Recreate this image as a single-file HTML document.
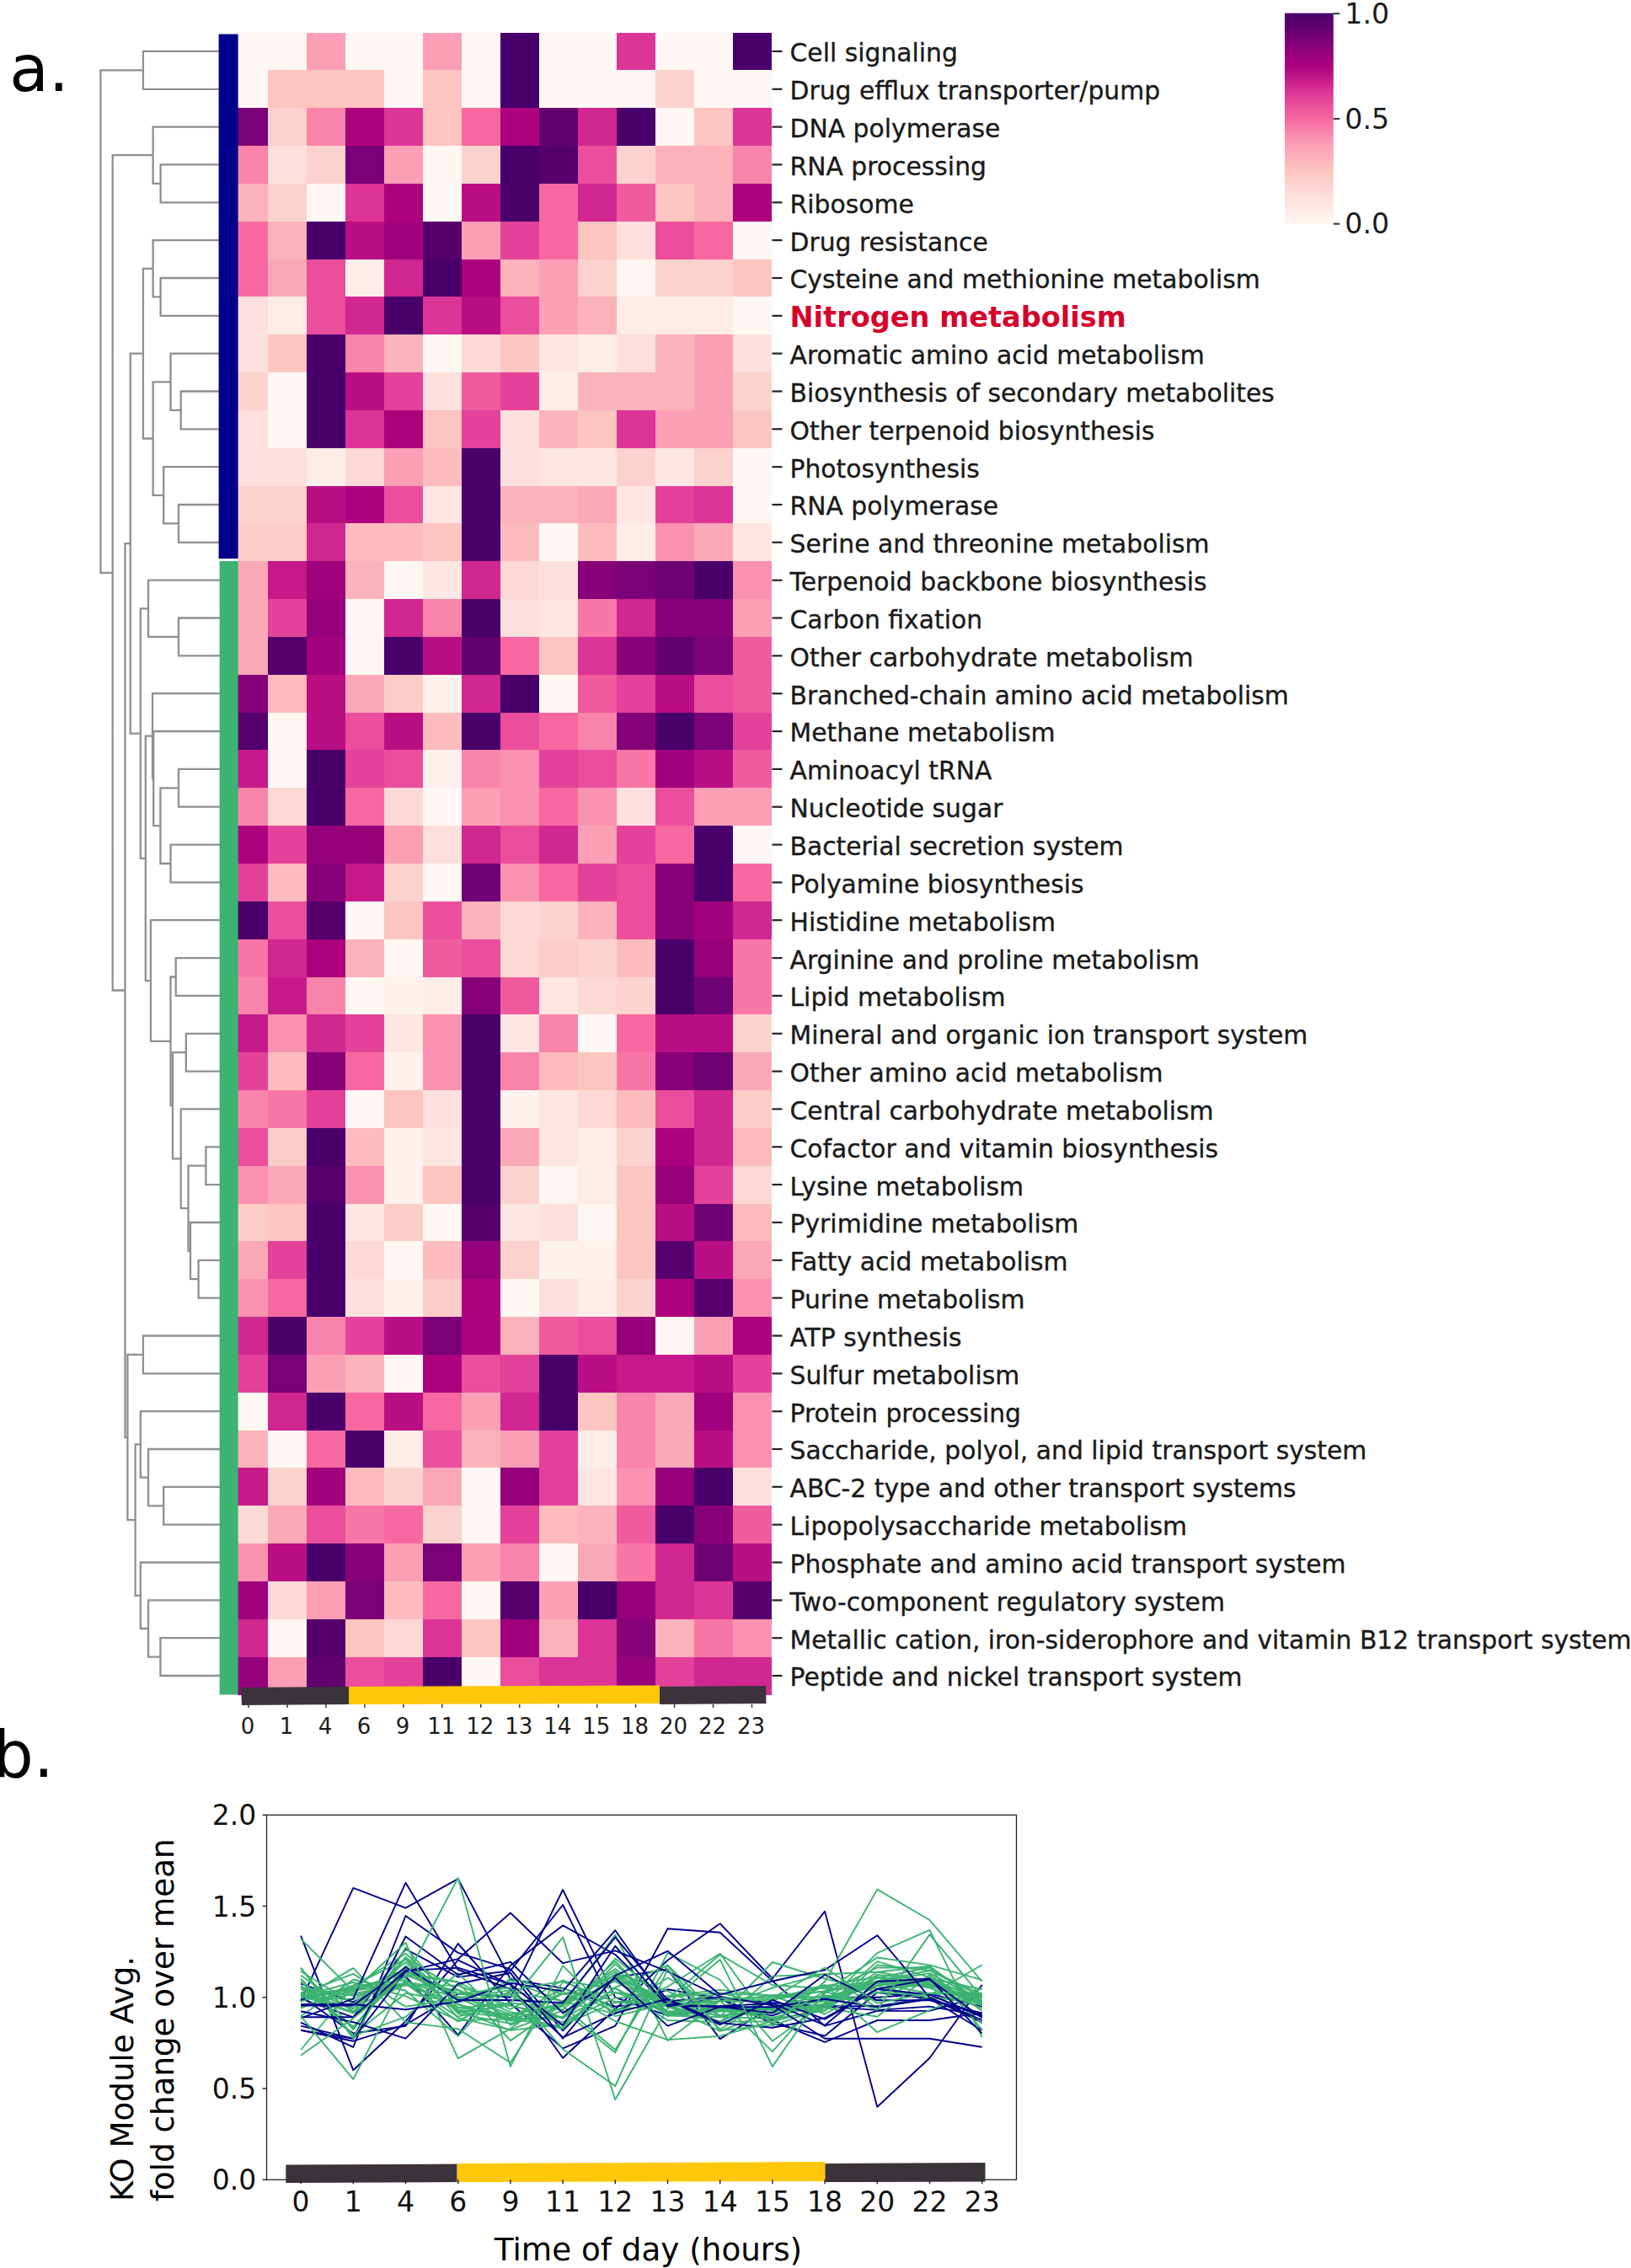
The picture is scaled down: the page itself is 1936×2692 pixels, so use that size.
<!DOCTYPE html>
<html><head><meta charset="utf-8"><title>Figure</title>
<style>html,body{margin:0;padding:0;background:#fff}svg{display:block}</style></head>
<body>
<svg width="1936" height="2692" viewBox="0 0 1936 2692" font-family="'DejaVu Sans', 'Liberation Sans', sans-serif">
<rect width="1936" height="2692" fill="#fff"/>
<g shape-rendering="crispEdges">
<rect x="282.00" y="38.50" width="36.50" height="45.34" fill="#fff7f3"/>
<rect x="318.00" y="38.50" width="46.46" height="45.34" fill="#fff7f3"/>
<rect x="363.96" y="38.50" width="46.46" height="45.34" fill="#fa9fb5"/>
<rect x="409.92" y="38.50" width="46.46" height="45.34" fill="#fff7f3"/>
<rect x="455.88" y="38.50" width="46.46" height="45.34" fill="#fff7f3"/>
<rect x="501.84" y="38.50" width="46.46" height="45.34" fill="#fa9fb5"/>
<rect x="547.80" y="38.50" width="46.46" height="45.34" fill="#fff7f3"/>
<rect x="593.76" y="38.50" width="46.46" height="45.34" fill="#49006a"/>
<rect x="639.72" y="38.50" width="46.46" height="45.34" fill="#fff7f3"/>
<rect x="685.68" y="38.50" width="46.46" height="45.34" fill="#fff7f3"/>
<rect x="731.64" y="38.50" width="46.46" height="45.34" fill="#dd3497"/>
<rect x="777.60" y="38.50" width="46.46" height="45.34" fill="#fff7f3"/>
<rect x="823.56" y="38.50" width="46.46" height="45.34" fill="#fff7f3"/>
<rect x="869.52" y="38.50" width="46.46" height="45.34" fill="#49006a"/>
<rect x="282.00" y="83.34" width="36.50" height="45.34" fill="#fff7f3"/>
<rect x="318.00" y="83.34" width="46.46" height="45.34" fill="#fcc5c0"/>
<rect x="363.96" y="83.34" width="46.46" height="45.34" fill="#fcc5c0"/>
<rect x="409.92" y="83.34" width="46.46" height="45.34" fill="#fcc5c0"/>
<rect x="455.88" y="83.34" width="46.46" height="45.34" fill="#fff7f3"/>
<rect x="501.84" y="83.34" width="46.46" height="45.34" fill="#fcc5c0"/>
<rect x="547.80" y="83.34" width="46.46" height="45.34" fill="#fff7f3"/>
<rect x="593.76" y="83.34" width="46.46" height="45.34" fill="#49006a"/>
<rect x="639.72" y="83.34" width="46.46" height="45.34" fill="#fff7f3"/>
<rect x="685.68" y="83.34" width="46.46" height="45.34" fill="#fff7f3"/>
<rect x="731.64" y="83.34" width="46.46" height="45.34" fill="#fff7f3"/>
<rect x="777.60" y="83.34" width="46.46" height="45.34" fill="#fcd2ce"/>
<rect x="823.56" y="83.34" width="46.46" height="45.34" fill="#fff7f3"/>
<rect x="869.52" y="83.34" width="46.46" height="45.34" fill="#fff7f3"/>
<rect x="282.00" y="128.18" width="36.50" height="45.34" fill="#7a0177"/>
<rect x="318.00" y="128.18" width="46.46" height="45.34" fill="#fcd2ce"/>
<rect x="363.96" y="128.18" width="46.46" height="45.34" fill="#f884ab"/>
<rect x="409.92" y="128.18" width="46.46" height="45.34" fill="#ae017e"/>
<rect x="455.88" y="128.18" width="46.46" height="45.34" fill="#dd3497"/>
<rect x="501.84" y="128.18" width="46.46" height="45.34" fill="#fcc5c0"/>
<rect x="547.80" y="128.18" width="46.46" height="45.34" fill="#f768a1"/>
<rect x="593.76" y="128.18" width="46.46" height="45.34" fill="#ae017e"/>
<rect x="639.72" y="128.18" width="46.46" height="45.34" fill="#620070"/>
<rect x="685.68" y="128.18" width="46.46" height="45.34" fill="#d12791"/>
<rect x="731.64" y="128.18" width="46.46" height="45.34" fill="#49006a"/>
<rect x="777.60" y="128.18" width="46.46" height="45.34" fill="#fff7f3"/>
<rect x="823.56" y="128.18" width="46.46" height="45.34" fill="#fcc5c0"/>
<rect x="869.52" y="128.18" width="46.46" height="45.34" fill="#dd3497"/>
<rect x="282.00" y="173.02" width="36.50" height="45.34" fill="#f884ab"/>
<rect x="318.00" y="173.02" width="46.46" height="45.34" fill="#fde0dd"/>
<rect x="363.96" y="173.02" width="46.46" height="45.34" fill="#fcd2ce"/>
<rect x="409.92" y="173.02" width="46.46" height="45.34" fill="#7a0177"/>
<rect x="455.88" y="173.02" width="46.46" height="45.34" fill="#fa9fb5"/>
<rect x="501.84" y="173.02" width="46.46" height="45.34" fill="#fff7f3"/>
<rect x="547.80" y="173.02" width="46.46" height="45.34" fill="#fcd2ce"/>
<rect x="593.76" y="173.02" width="46.46" height="45.34" fill="#49006a"/>
<rect x="639.72" y="173.02" width="46.46" height="45.34" fill="#55006d"/>
<rect x="685.68" y="173.02" width="46.46" height="45.34" fill="#ea4e9c"/>
<rect x="731.64" y="173.02" width="46.46" height="45.34" fill="#fcd2ce"/>
<rect x="777.60" y="173.02" width="46.46" height="45.34" fill="#fbb2ba"/>
<rect x="823.56" y="173.02" width="46.46" height="45.34" fill="#fbb2ba"/>
<rect x="869.52" y="173.02" width="46.46" height="45.34" fill="#f884ab"/>
<rect x="282.00" y="217.86" width="36.50" height="45.34" fill="#fbb2ba"/>
<rect x="318.00" y="217.86" width="46.46" height="45.34" fill="#fcd2ce"/>
<rect x="363.96" y="217.86" width="46.46" height="45.34" fill="#fff7f3"/>
<rect x="409.92" y="217.86" width="46.46" height="45.34" fill="#dd3497"/>
<rect x="455.88" y="217.86" width="46.46" height="45.34" fill="#ae017e"/>
<rect x="501.84" y="217.86" width="46.46" height="45.34" fill="#fff7f3"/>
<rect x="547.80" y="217.86" width="46.46" height="45.34" fill="#ba0e84"/>
<rect x="593.76" y="217.86" width="46.46" height="45.34" fill="#49006a"/>
<rect x="639.72" y="217.86" width="46.46" height="45.34" fill="#f768a1"/>
<rect x="685.68" y="217.86" width="46.46" height="45.34" fill="#d12791"/>
<rect x="731.64" y="217.86" width="46.46" height="45.34" fill="#f05b9e"/>
<rect x="777.60" y="217.86" width="46.46" height="45.34" fill="#fcc5c0"/>
<rect x="823.56" y="217.86" width="46.46" height="45.34" fill="#fbb2ba"/>
<rect x="869.52" y="217.86" width="46.46" height="45.34" fill="#ae017e"/>
<rect x="282.00" y="262.70" width="36.50" height="45.34" fill="#f768a1"/>
<rect x="318.00" y="262.70" width="46.46" height="45.34" fill="#fbb2ba"/>
<rect x="363.96" y="262.70" width="46.46" height="45.34" fill="#49006a"/>
<rect x="409.92" y="262.70" width="46.46" height="45.34" fill="#ba0e84"/>
<rect x="455.88" y="262.70" width="46.46" height="45.34" fill="#a1017c"/>
<rect x="501.84" y="262.70" width="46.46" height="45.34" fill="#55006d"/>
<rect x="547.80" y="262.70" width="46.46" height="45.34" fill="#fa9fb5"/>
<rect x="593.76" y="262.70" width="46.46" height="45.34" fill="#e4419a"/>
<rect x="639.72" y="262.70" width="46.46" height="45.34" fill="#f768a1"/>
<rect x="685.68" y="262.70" width="46.46" height="45.34" fill="#fcc5c0"/>
<rect x="731.64" y="262.70" width="46.46" height="45.34" fill="#fde0dd"/>
<rect x="777.60" y="262.70" width="46.46" height="45.34" fill="#ea4e9c"/>
<rect x="823.56" y="262.70" width="46.46" height="45.34" fill="#f768a1"/>
<rect x="869.52" y="262.70" width="46.46" height="45.34" fill="#fff7f3"/>
<rect x="282.00" y="307.54" width="36.50" height="45.34" fill="#f768a1"/>
<rect x="318.00" y="307.54" width="46.46" height="45.34" fill="#faa8b8"/>
<rect x="363.96" y="307.54" width="46.46" height="45.34" fill="#ea4e9c"/>
<rect x="409.92" y="307.54" width="46.46" height="45.34" fill="#feece8"/>
<rect x="455.88" y="307.54" width="46.46" height="45.34" fill="#d12791"/>
<rect x="501.84" y="307.54" width="46.46" height="45.34" fill="#49006a"/>
<rect x="547.80" y="307.54" width="46.46" height="45.34" fill="#ae017e"/>
<rect x="593.76" y="307.54" width="46.46" height="45.34" fill="#fbb2ba"/>
<rect x="639.72" y="307.54" width="46.46" height="45.34" fill="#fa9fb5"/>
<rect x="685.68" y="307.54" width="46.46" height="45.34" fill="#fcd2ce"/>
<rect x="731.64" y="307.54" width="46.46" height="45.34" fill="#fff7f3"/>
<rect x="777.60" y="307.54" width="46.46" height="45.34" fill="#fcd2ce"/>
<rect x="823.56" y="307.54" width="46.46" height="45.34" fill="#fcd2ce"/>
<rect x="869.52" y="307.54" width="46.46" height="45.34" fill="#fcc5c0"/>
<rect x="282.00" y="352.38" width="36.50" height="45.34" fill="#fde0dd"/>
<rect x="318.00" y="352.38" width="46.46" height="45.34" fill="#feece8"/>
<rect x="363.96" y="352.38" width="46.46" height="45.34" fill="#ea4e9c"/>
<rect x="409.92" y="352.38" width="46.46" height="45.34" fill="#d12791"/>
<rect x="455.88" y="352.38" width="46.46" height="45.34" fill="#49006a"/>
<rect x="501.84" y="352.38" width="46.46" height="45.34" fill="#dd3497"/>
<rect x="547.80" y="352.38" width="46.46" height="45.34" fill="#ba0e84"/>
<rect x="593.76" y="352.38" width="46.46" height="45.34" fill="#ea4e9c"/>
<rect x="639.72" y="352.38" width="46.46" height="45.34" fill="#fa9fb5"/>
<rect x="685.68" y="352.38" width="46.46" height="45.34" fill="#fbb2ba"/>
<rect x="731.64" y="352.38" width="46.46" height="45.34" fill="#feece8"/>
<rect x="777.60" y="352.38" width="46.46" height="45.34" fill="#feece8"/>
<rect x="823.56" y="352.38" width="46.46" height="45.34" fill="#feece8"/>
<rect x="869.52" y="352.38" width="46.46" height="45.34" fill="#fff7f3"/>
<rect x="282.00" y="397.22" width="36.50" height="45.34" fill="#fde0dd"/>
<rect x="318.00" y="397.22" width="46.46" height="45.34" fill="#fcc5c0"/>
<rect x="363.96" y="397.22" width="46.46" height="45.34" fill="#49006a"/>
<rect x="409.92" y="397.22" width="46.46" height="45.34" fill="#f884ab"/>
<rect x="455.88" y="397.22" width="46.46" height="45.34" fill="#fbb2ba"/>
<rect x="501.84" y="397.22" width="46.46" height="45.34" fill="#fff7f3"/>
<rect x="547.80" y="397.22" width="46.46" height="45.34" fill="#fdd9d6"/>
<rect x="593.76" y="397.22" width="46.46" height="45.34" fill="#fcc5c0"/>
<rect x="639.72" y="397.22" width="46.46" height="45.34" fill="#fee6e2"/>
<rect x="685.68" y="397.22" width="46.46" height="45.34" fill="#feece8"/>
<rect x="731.64" y="397.22" width="46.46" height="45.34" fill="#fde0dd"/>
<rect x="777.60" y="397.22" width="46.46" height="45.34" fill="#fbb2ba"/>
<rect x="823.56" y="397.22" width="46.46" height="45.34" fill="#fa9fb5"/>
<rect x="869.52" y="397.22" width="46.46" height="45.34" fill="#fde0dd"/>
<rect x="282.00" y="442.06" width="36.50" height="45.34" fill="#fcd2ce"/>
<rect x="318.00" y="442.06" width="46.46" height="45.34" fill="#fff7f3"/>
<rect x="363.96" y="442.06" width="46.46" height="45.34" fill="#49006a"/>
<rect x="409.92" y="442.06" width="46.46" height="45.34" fill="#ba0e84"/>
<rect x="455.88" y="442.06" width="46.46" height="45.34" fill="#e4419a"/>
<rect x="501.84" y="442.06" width="46.46" height="45.34" fill="#fde0dd"/>
<rect x="547.80" y="442.06" width="46.46" height="45.34" fill="#f05b9e"/>
<rect x="593.76" y="442.06" width="46.46" height="45.34" fill="#e4419a"/>
<rect x="639.72" y="442.06" width="46.46" height="45.34" fill="#feece8"/>
<rect x="685.68" y="442.06" width="46.46" height="45.34" fill="#fbb2ba"/>
<rect x="731.64" y="442.06" width="46.46" height="45.34" fill="#fbb2ba"/>
<rect x="777.60" y="442.06" width="46.46" height="45.34" fill="#fbb2ba"/>
<rect x="823.56" y="442.06" width="46.46" height="45.34" fill="#fa9fb5"/>
<rect x="869.52" y="442.06" width="46.46" height="45.34" fill="#fcd2ce"/>
<rect x="282.00" y="486.90" width="36.50" height="45.34" fill="#fde0dd"/>
<rect x="318.00" y="486.90" width="46.46" height="45.34" fill="#fff7f3"/>
<rect x="363.96" y="486.90" width="46.46" height="45.34" fill="#49006a"/>
<rect x="409.92" y="486.90" width="46.46" height="45.34" fill="#dd3497"/>
<rect x="455.88" y="486.90" width="46.46" height="45.34" fill="#ae017e"/>
<rect x="501.84" y="486.90" width="46.46" height="45.34" fill="#fcc5c0"/>
<rect x="547.80" y="486.90" width="46.46" height="45.34" fill="#e4419a"/>
<rect x="593.76" y="486.90" width="46.46" height="45.34" fill="#fde0dd"/>
<rect x="639.72" y="486.90" width="46.46" height="45.34" fill="#fbb2ba"/>
<rect x="685.68" y="486.90" width="46.46" height="45.34" fill="#fcc5c0"/>
<rect x="731.64" y="486.90" width="46.46" height="45.34" fill="#dd3497"/>
<rect x="777.60" y="486.90" width="46.46" height="45.34" fill="#fa9fb5"/>
<rect x="823.56" y="486.90" width="46.46" height="45.34" fill="#fa9fb5"/>
<rect x="869.52" y="486.90" width="46.46" height="45.34" fill="#fcc5c0"/>
<rect x="282.00" y="531.74" width="36.50" height="45.34" fill="#fde0dd"/>
<rect x="318.00" y="531.74" width="46.46" height="45.34" fill="#fde0dd"/>
<rect x="363.96" y="531.74" width="46.46" height="45.34" fill="#feece8"/>
<rect x="409.92" y="531.74" width="46.46" height="45.34" fill="#fdd9d6"/>
<rect x="455.88" y="531.74" width="46.46" height="45.34" fill="#fa9fb5"/>
<rect x="501.84" y="531.74" width="46.46" height="45.34" fill="#fcbcbd"/>
<rect x="547.80" y="531.74" width="46.46" height="45.34" fill="#49006a"/>
<rect x="593.76" y="531.74" width="46.46" height="45.34" fill="#fde0dd"/>
<rect x="639.72" y="531.74" width="46.46" height="45.34" fill="#fee6e2"/>
<rect x="685.68" y="531.74" width="46.46" height="45.34" fill="#fee6e2"/>
<rect x="731.64" y="531.74" width="46.46" height="45.34" fill="#fcd2ce"/>
<rect x="777.60" y="531.74" width="46.46" height="45.34" fill="#fee6e2"/>
<rect x="823.56" y="531.74" width="46.46" height="45.34" fill="#fcd2ce"/>
<rect x="869.52" y="531.74" width="46.46" height="45.34" fill="#fff7f3"/>
<rect x="282.00" y="576.58" width="36.50" height="45.34" fill="#fcd2ce"/>
<rect x="318.00" y="576.58" width="46.46" height="45.34" fill="#fcd2ce"/>
<rect x="363.96" y="576.58" width="46.46" height="45.34" fill="#ba0e84"/>
<rect x="409.92" y="576.58" width="46.46" height="45.34" fill="#ae017e"/>
<rect x="455.88" y="576.58" width="46.46" height="45.34" fill="#ea4e9c"/>
<rect x="501.84" y="576.58" width="46.46" height="45.34" fill="#fee6e2"/>
<rect x="547.80" y="576.58" width="46.46" height="45.34" fill="#49006a"/>
<rect x="593.76" y="576.58" width="46.46" height="45.34" fill="#fbb2ba"/>
<rect x="639.72" y="576.58" width="46.46" height="45.34" fill="#fbb2ba"/>
<rect x="685.68" y="576.58" width="46.46" height="45.34" fill="#faa8b8"/>
<rect x="731.64" y="576.58" width="46.46" height="45.34" fill="#fee6e2"/>
<rect x="777.60" y="576.58" width="46.46" height="45.34" fill="#e4419a"/>
<rect x="823.56" y="576.58" width="46.46" height="45.34" fill="#dd3497"/>
<rect x="869.52" y="576.58" width="46.46" height="45.34" fill="#fff7f3"/>
<rect x="282.00" y="621.42" width="36.50" height="45.34" fill="#fcccc7"/>
<rect x="318.00" y="621.42" width="46.46" height="45.34" fill="#fcccc7"/>
<rect x="363.96" y="621.42" width="46.46" height="45.34" fill="#d12791"/>
<rect x="409.92" y="621.42" width="46.46" height="45.34" fill="#fcbcbd"/>
<rect x="455.88" y="621.42" width="46.46" height="45.34" fill="#fcbcbd"/>
<rect x="501.84" y="621.42" width="46.46" height="45.34" fill="#fcc5c0"/>
<rect x="547.80" y="621.42" width="46.46" height="45.34" fill="#49006a"/>
<rect x="593.76" y="621.42" width="46.46" height="45.34" fill="#fcbcbd"/>
<rect x="639.72" y="621.42" width="46.46" height="45.34" fill="#fff7f3"/>
<rect x="685.68" y="621.42" width="46.46" height="45.34" fill="#fcbcbd"/>
<rect x="731.64" y="621.42" width="46.46" height="45.34" fill="#feece8"/>
<rect x="777.60" y="621.42" width="46.46" height="45.34" fill="#f991b0"/>
<rect x="823.56" y="621.42" width="46.46" height="45.34" fill="#faa8b8"/>
<rect x="869.52" y="621.42" width="46.46" height="45.34" fill="#fee6e2"/>
<rect x="282.00" y="666.26" width="36.50" height="45.34" fill="#faa8b8"/>
<rect x="318.00" y="666.26" width="46.46" height="45.34" fill="#c61a8a"/>
<rect x="363.96" y="666.26" width="46.46" height="45.34" fill="#a1017c"/>
<rect x="409.92" y="666.26" width="46.46" height="45.34" fill="#fbb2ba"/>
<rect x="455.88" y="666.26" width="46.46" height="45.34" fill="#fff7f3"/>
<rect x="501.84" y="666.26" width="46.46" height="45.34" fill="#fee6e2"/>
<rect x="547.80" y="666.26" width="46.46" height="45.34" fill="#d12791"/>
<rect x="593.76" y="666.26" width="46.46" height="45.34" fill="#fdd9d6"/>
<rect x="639.72" y="666.26" width="46.46" height="45.34" fill="#fde0dd"/>
<rect x="685.68" y="666.26" width="46.46" height="45.34" fill="#870179"/>
<rect x="731.64" y="666.26" width="46.46" height="45.34" fill="#7a0177"/>
<rect x="777.60" y="666.26" width="46.46" height="45.34" fill="#6e0174"/>
<rect x="823.56" y="666.26" width="46.46" height="45.34" fill="#49006a"/>
<rect x="869.52" y="666.26" width="46.46" height="45.34" fill="#f991b0"/>
<rect x="282.00" y="711.10" width="36.50" height="45.34" fill="#faa8b8"/>
<rect x="318.00" y="711.10" width="46.46" height="45.34" fill="#e4419a"/>
<rect x="363.96" y="711.10" width="46.46" height="45.34" fill="#94017a"/>
<rect x="409.92" y="711.10" width="46.46" height="45.34" fill="#fff7f3"/>
<rect x="455.88" y="711.10" width="46.46" height="45.34" fill="#d12791"/>
<rect x="501.84" y="711.10" width="46.46" height="45.34" fill="#f884ab"/>
<rect x="547.80" y="711.10" width="46.46" height="45.34" fill="#49006a"/>
<rect x="593.76" y="711.10" width="46.46" height="45.34" fill="#fde0dd"/>
<rect x="639.72" y="711.10" width="46.46" height="45.34" fill="#fee6e2"/>
<rect x="685.68" y="711.10" width="46.46" height="45.34" fill="#f876a6"/>
<rect x="731.64" y="711.10" width="46.46" height="45.34" fill="#d12791"/>
<rect x="777.60" y="711.10" width="46.46" height="45.34" fill="#870179"/>
<rect x="823.56" y="711.10" width="46.46" height="45.34" fill="#870179"/>
<rect x="869.52" y="711.10" width="46.46" height="45.34" fill="#fa9fb5"/>
<rect x="282.00" y="755.94" width="36.50" height="45.34" fill="#faa8b8"/>
<rect x="318.00" y="755.94" width="46.46" height="45.34" fill="#55006d"/>
<rect x="363.96" y="755.94" width="46.46" height="45.34" fill="#a1017c"/>
<rect x="409.92" y="755.94" width="46.46" height="45.34" fill="#fff7f3"/>
<rect x="455.88" y="755.94" width="46.46" height="45.34" fill="#49006a"/>
<rect x="501.84" y="755.94" width="46.46" height="45.34" fill="#ba0e84"/>
<rect x="547.80" y="755.94" width="46.46" height="45.34" fill="#620070"/>
<rect x="593.76" y="755.94" width="46.46" height="45.34" fill="#f768a1"/>
<rect x="639.72" y="755.94" width="46.46" height="45.34" fill="#fcc5c0"/>
<rect x="685.68" y="755.94" width="46.46" height="45.34" fill="#dd3497"/>
<rect x="731.64" y="755.94" width="46.46" height="45.34" fill="#870179"/>
<rect x="777.60" y="755.94" width="46.46" height="45.34" fill="#620070"/>
<rect x="823.56" y="755.94" width="46.46" height="45.34" fill="#7a0177"/>
<rect x="869.52" y="755.94" width="46.46" height="45.34" fill="#f05b9e"/>
<rect x="282.00" y="800.78" width="36.50" height="45.34" fill="#870179"/>
<rect x="318.00" y="800.78" width="46.46" height="45.34" fill="#fcbcbd"/>
<rect x="363.96" y="800.78" width="46.46" height="45.34" fill="#ba0e84"/>
<rect x="409.92" y="800.78" width="46.46" height="45.34" fill="#faa8b8"/>
<rect x="455.88" y="800.78" width="46.46" height="45.34" fill="#fcccc7"/>
<rect x="501.84" y="800.78" width="46.46" height="45.34" fill="#fef1ee"/>
<rect x="547.80" y="800.78" width="46.46" height="45.34" fill="#d12791"/>
<rect x="593.76" y="800.78" width="46.46" height="45.34" fill="#49006a"/>
<rect x="639.72" y="800.78" width="46.46" height="45.34" fill="#fff7f3"/>
<rect x="685.68" y="800.78" width="46.46" height="45.34" fill="#f05b9e"/>
<rect x="731.64" y="800.78" width="46.46" height="45.34" fill="#e4419a"/>
<rect x="777.60" y="800.78" width="46.46" height="45.34" fill="#ba0e84"/>
<rect x="823.56" y="800.78" width="46.46" height="45.34" fill="#ea4e9c"/>
<rect x="869.52" y="800.78" width="46.46" height="45.34" fill="#f05b9e"/>
<rect x="282.00" y="845.62" width="36.50" height="45.34" fill="#55006d"/>
<rect x="318.00" y="845.62" width="46.46" height="45.34" fill="#fff7f3"/>
<rect x="363.96" y="845.62" width="46.46" height="45.34" fill="#ba0e84"/>
<rect x="409.92" y="845.62" width="46.46" height="45.34" fill="#ea4e9c"/>
<rect x="455.88" y="845.62" width="46.46" height="45.34" fill="#ba0e84"/>
<rect x="501.84" y="845.62" width="46.46" height="45.34" fill="#fcbcbd"/>
<rect x="547.80" y="845.62" width="46.46" height="45.34" fill="#49006a"/>
<rect x="593.76" y="845.62" width="46.46" height="45.34" fill="#ea4e9c"/>
<rect x="639.72" y="845.62" width="46.46" height="45.34" fill="#f768a1"/>
<rect x="685.68" y="845.62" width="46.46" height="45.34" fill="#f884ab"/>
<rect x="731.64" y="845.62" width="46.46" height="45.34" fill="#870179"/>
<rect x="777.60" y="845.62" width="46.46" height="45.34" fill="#49006a"/>
<rect x="823.56" y="845.62" width="46.46" height="45.34" fill="#7a0177"/>
<rect x="869.52" y="845.62" width="46.46" height="45.34" fill="#e4419a"/>
<rect x="282.00" y="890.46" width="36.50" height="45.34" fill="#c61a8a"/>
<rect x="318.00" y="890.46" width="46.46" height="45.34" fill="#fff7f3"/>
<rect x="363.96" y="890.46" width="46.46" height="45.34" fill="#49006a"/>
<rect x="409.92" y="890.46" width="46.46" height="45.34" fill="#e4419a"/>
<rect x="455.88" y="890.46" width="46.46" height="45.34" fill="#ea4e9c"/>
<rect x="501.84" y="890.46" width="46.46" height="45.34" fill="#fef1ee"/>
<rect x="547.80" y="890.46" width="46.46" height="45.34" fill="#f884ab"/>
<rect x="593.76" y="890.46" width="46.46" height="45.34" fill="#f991b0"/>
<rect x="639.72" y="890.46" width="46.46" height="45.34" fill="#e4419a"/>
<rect x="685.68" y="890.46" width="46.46" height="45.34" fill="#ea4e9c"/>
<rect x="731.64" y="890.46" width="46.46" height="45.34" fill="#f876a6"/>
<rect x="777.60" y="890.46" width="46.46" height="45.34" fill="#a1017c"/>
<rect x="823.56" y="890.46" width="46.46" height="45.34" fill="#ba0e84"/>
<rect x="869.52" y="890.46" width="46.46" height="45.34" fill="#f05b9e"/>
<rect x="282.00" y="935.30" width="36.50" height="45.34" fill="#f884ab"/>
<rect x="318.00" y="935.30" width="46.46" height="45.34" fill="#fdd9d6"/>
<rect x="363.96" y="935.30" width="46.46" height="45.34" fill="#49006a"/>
<rect x="409.92" y="935.30" width="46.46" height="45.34" fill="#f768a1"/>
<rect x="455.88" y="935.30" width="46.46" height="45.34" fill="#fdd9d6"/>
<rect x="501.84" y="935.30" width="46.46" height="45.34" fill="#fff7f3"/>
<rect x="547.80" y="935.30" width="46.46" height="45.34" fill="#fa9fb5"/>
<rect x="593.76" y="935.30" width="46.46" height="45.34" fill="#f991b0"/>
<rect x="639.72" y="935.30" width="46.46" height="45.34" fill="#f768a1"/>
<rect x="685.68" y="935.30" width="46.46" height="45.34" fill="#f991b0"/>
<rect x="731.64" y="935.30" width="46.46" height="45.34" fill="#fde0dd"/>
<rect x="777.60" y="935.30" width="46.46" height="45.34" fill="#ea4e9c"/>
<rect x="823.56" y="935.30" width="46.46" height="45.34" fill="#fa9fb5"/>
<rect x="869.52" y="935.30" width="46.46" height="45.34" fill="#fa9fb5"/>
<rect x="282.00" y="980.14" width="36.50" height="45.34" fill="#ae017e"/>
<rect x="318.00" y="980.14" width="46.46" height="45.34" fill="#e4419a"/>
<rect x="363.96" y="980.14" width="46.46" height="45.34" fill="#94017a"/>
<rect x="409.92" y="980.14" width="46.46" height="45.34" fill="#94017a"/>
<rect x="455.88" y="980.14" width="46.46" height="45.34" fill="#fa9fb5"/>
<rect x="501.84" y="980.14" width="46.46" height="45.34" fill="#fde0dd"/>
<rect x="547.80" y="980.14" width="46.46" height="45.34" fill="#d12791"/>
<rect x="593.76" y="980.14" width="46.46" height="45.34" fill="#ea4e9c"/>
<rect x="639.72" y="980.14" width="46.46" height="45.34" fill="#d12791"/>
<rect x="685.68" y="980.14" width="46.46" height="45.34" fill="#fa9fb5"/>
<rect x="731.64" y="980.14" width="46.46" height="45.34" fill="#e4419a"/>
<rect x="777.60" y="980.14" width="46.46" height="45.34" fill="#f768a1"/>
<rect x="823.56" y="980.14" width="46.46" height="45.34" fill="#49006a"/>
<rect x="869.52" y="980.14" width="46.46" height="45.34" fill="#fff7f3"/>
<rect x="282.00" y="1024.98" width="36.50" height="45.34" fill="#e4419a"/>
<rect x="318.00" y="1024.98" width="46.46" height="45.34" fill="#fcbcbd"/>
<rect x="363.96" y="1024.98" width="46.46" height="45.34" fill="#870179"/>
<rect x="409.92" y="1024.98" width="46.46" height="45.34" fill="#c61a8a"/>
<rect x="455.88" y="1024.98" width="46.46" height="45.34" fill="#fcd2ce"/>
<rect x="501.84" y="1024.98" width="46.46" height="45.34" fill="#fff7f3"/>
<rect x="547.80" y="1024.98" width="46.46" height="45.34" fill="#6e0174"/>
<rect x="593.76" y="1024.98" width="46.46" height="45.34" fill="#f991b0"/>
<rect x="639.72" y="1024.98" width="46.46" height="45.34" fill="#f768a1"/>
<rect x="685.68" y="1024.98" width="46.46" height="45.34" fill="#e4419a"/>
<rect x="731.64" y="1024.98" width="46.46" height="45.34" fill="#ea4e9c"/>
<rect x="777.60" y="1024.98" width="46.46" height="45.34" fill="#870179"/>
<rect x="823.56" y="1024.98" width="46.46" height="45.34" fill="#49006a"/>
<rect x="869.52" y="1024.98" width="46.46" height="45.34" fill="#f768a1"/>
<rect x="282.00" y="1069.82" width="36.50" height="45.34" fill="#49006a"/>
<rect x="318.00" y="1069.82" width="46.46" height="45.34" fill="#ea4e9c"/>
<rect x="363.96" y="1069.82" width="46.46" height="45.34" fill="#55006d"/>
<rect x="409.92" y="1069.82" width="46.46" height="45.34" fill="#fff7f3"/>
<rect x="455.88" y="1069.82" width="46.46" height="45.34" fill="#fcc5c0"/>
<rect x="501.84" y="1069.82" width="46.46" height="45.34" fill="#ea4e9c"/>
<rect x="547.80" y="1069.82" width="46.46" height="45.34" fill="#fbb2ba"/>
<rect x="593.76" y="1069.82" width="46.46" height="45.34" fill="#fdd9d6"/>
<rect x="639.72" y="1069.82" width="46.46" height="45.34" fill="#fcd2ce"/>
<rect x="685.68" y="1069.82" width="46.46" height="45.34" fill="#fbb2ba"/>
<rect x="731.64" y="1069.82" width="46.46" height="45.34" fill="#ea4e9c"/>
<rect x="777.60" y="1069.82" width="46.46" height="45.34" fill="#870179"/>
<rect x="823.56" y="1069.82" width="46.46" height="45.34" fill="#a1017c"/>
<rect x="869.52" y="1069.82" width="46.46" height="45.34" fill="#d12791"/>
<rect x="282.00" y="1114.66" width="36.50" height="45.34" fill="#f876a6"/>
<rect x="318.00" y="1114.66" width="46.46" height="45.34" fill="#d12791"/>
<rect x="363.96" y="1114.66" width="46.46" height="45.34" fill="#ae017e"/>
<rect x="409.92" y="1114.66" width="46.46" height="45.34" fill="#fbb2ba"/>
<rect x="455.88" y="1114.66" width="46.46" height="45.34" fill="#fff7f3"/>
<rect x="501.84" y="1114.66" width="46.46" height="45.34" fill="#f05b9e"/>
<rect x="547.80" y="1114.66" width="46.46" height="45.34" fill="#ea4e9c"/>
<rect x="593.76" y="1114.66" width="46.46" height="45.34" fill="#fdd9d6"/>
<rect x="639.72" y="1114.66" width="46.46" height="45.34" fill="#fcccc7"/>
<rect x="685.68" y="1114.66" width="46.46" height="45.34" fill="#fcd2ce"/>
<rect x="731.64" y="1114.66" width="46.46" height="45.34" fill="#fcbcbd"/>
<rect x="777.60" y="1114.66" width="46.46" height="45.34" fill="#49006a"/>
<rect x="823.56" y="1114.66" width="46.46" height="45.34" fill="#94017a"/>
<rect x="869.52" y="1114.66" width="46.46" height="45.34" fill="#f876a6"/>
<rect x="282.00" y="1159.50" width="36.50" height="45.34" fill="#f884ab"/>
<rect x="318.00" y="1159.50" width="46.46" height="45.34" fill="#c61a8a"/>
<rect x="363.96" y="1159.50" width="46.46" height="45.34" fill="#f884ab"/>
<rect x="409.92" y="1159.50" width="46.46" height="45.34" fill="#fff7f3"/>
<rect x="455.88" y="1159.50" width="46.46" height="45.34" fill="#fef1ee"/>
<rect x="501.84" y="1159.50" width="46.46" height="45.34" fill="#feece8"/>
<rect x="547.80" y="1159.50" width="46.46" height="45.34" fill="#870179"/>
<rect x="593.76" y="1159.50" width="46.46" height="45.34" fill="#f05b9e"/>
<rect x="639.72" y="1159.50" width="46.46" height="45.34" fill="#fee6e2"/>
<rect x="685.68" y="1159.50" width="46.46" height="45.34" fill="#fdd9d6"/>
<rect x="731.64" y="1159.50" width="46.46" height="45.34" fill="#fcd2ce"/>
<rect x="777.60" y="1159.50" width="46.46" height="45.34" fill="#49006a"/>
<rect x="823.56" y="1159.50" width="46.46" height="45.34" fill="#6e0174"/>
<rect x="869.52" y="1159.50" width="46.46" height="45.34" fill="#f876a6"/>
<rect x="282.00" y="1204.34" width="36.50" height="45.34" fill="#c61a8a"/>
<rect x="318.00" y="1204.34" width="46.46" height="45.34" fill="#f991b0"/>
<rect x="363.96" y="1204.34" width="46.46" height="45.34" fill="#d12791"/>
<rect x="409.92" y="1204.34" width="46.46" height="45.34" fill="#e4419a"/>
<rect x="455.88" y="1204.34" width="46.46" height="45.34" fill="#fee6e2"/>
<rect x="501.84" y="1204.34" width="46.46" height="45.34" fill="#f991b0"/>
<rect x="547.80" y="1204.34" width="46.46" height="45.34" fill="#49006a"/>
<rect x="593.76" y="1204.34" width="46.46" height="45.34" fill="#fee6e2"/>
<rect x="639.72" y="1204.34" width="46.46" height="45.34" fill="#f884ab"/>
<rect x="685.68" y="1204.34" width="46.46" height="45.34" fill="#fff7f3"/>
<rect x="731.64" y="1204.34" width="46.46" height="45.34" fill="#f768a1"/>
<rect x="777.60" y="1204.34" width="46.46" height="45.34" fill="#ba0e84"/>
<rect x="823.56" y="1204.34" width="46.46" height="45.34" fill="#ba0e84"/>
<rect x="869.52" y="1204.34" width="46.46" height="45.34" fill="#fcd2ce"/>
<rect x="282.00" y="1249.18" width="36.50" height="45.34" fill="#e4419a"/>
<rect x="318.00" y="1249.18" width="46.46" height="45.34" fill="#fcbcbd"/>
<rect x="363.96" y="1249.18" width="46.46" height="45.34" fill="#870179"/>
<rect x="409.92" y="1249.18" width="46.46" height="45.34" fill="#f768a1"/>
<rect x="455.88" y="1249.18" width="46.46" height="45.34" fill="#fef1ee"/>
<rect x="501.84" y="1249.18" width="46.46" height="45.34" fill="#f991b0"/>
<rect x="547.80" y="1249.18" width="46.46" height="45.34" fill="#49006a"/>
<rect x="593.76" y="1249.18" width="46.46" height="45.34" fill="#f884ab"/>
<rect x="639.72" y="1249.18" width="46.46" height="45.34" fill="#fcbcbd"/>
<rect x="685.68" y="1249.18" width="46.46" height="45.34" fill="#fcc5c0"/>
<rect x="731.64" y="1249.18" width="46.46" height="45.34" fill="#f876a6"/>
<rect x="777.60" y="1249.18" width="46.46" height="45.34" fill="#870179"/>
<rect x="823.56" y="1249.18" width="46.46" height="45.34" fill="#6e0174"/>
<rect x="869.52" y="1249.18" width="46.46" height="45.34" fill="#faa8b8"/>
<rect x="282.00" y="1294.02" width="36.50" height="45.34" fill="#f884ab"/>
<rect x="318.00" y="1294.02" width="46.46" height="45.34" fill="#f876a6"/>
<rect x="363.96" y="1294.02" width="46.46" height="45.34" fill="#e4419a"/>
<rect x="409.92" y="1294.02" width="46.46" height="45.34" fill="#fff7f3"/>
<rect x="455.88" y="1294.02" width="46.46" height="45.34" fill="#fcc5c0"/>
<rect x="501.84" y="1294.02" width="46.46" height="45.34" fill="#fde0dd"/>
<rect x="547.80" y="1294.02" width="46.46" height="45.34" fill="#49006a"/>
<rect x="593.76" y="1294.02" width="46.46" height="45.34" fill="#fef1ee"/>
<rect x="639.72" y="1294.02" width="46.46" height="45.34" fill="#fee6e2"/>
<rect x="685.68" y="1294.02" width="46.46" height="45.34" fill="#fdd9d6"/>
<rect x="731.64" y="1294.02" width="46.46" height="45.34" fill="#fcbcbd"/>
<rect x="777.60" y="1294.02" width="46.46" height="45.34" fill="#ea4e9c"/>
<rect x="823.56" y="1294.02" width="46.46" height="45.34" fill="#d12791"/>
<rect x="869.52" y="1294.02" width="46.46" height="45.34" fill="#fcccc7"/>
<rect x="282.00" y="1338.86" width="36.50" height="45.34" fill="#ea4e9c"/>
<rect x="318.00" y="1338.86" width="46.46" height="45.34" fill="#fcccc7"/>
<rect x="363.96" y="1338.86" width="46.46" height="45.34" fill="#49006a"/>
<rect x="409.92" y="1338.86" width="46.46" height="45.34" fill="#fcbcbd"/>
<rect x="455.88" y="1338.86" width="46.46" height="45.34" fill="#fef1ee"/>
<rect x="501.84" y="1338.86" width="46.46" height="45.34" fill="#fee6e2"/>
<rect x="547.80" y="1338.86" width="46.46" height="45.34" fill="#49006a"/>
<rect x="593.76" y="1338.86" width="46.46" height="45.34" fill="#faa8b8"/>
<rect x="639.72" y="1338.86" width="46.46" height="45.34" fill="#fee6e2"/>
<rect x="685.68" y="1338.86" width="46.46" height="45.34" fill="#feece8"/>
<rect x="731.64" y="1338.86" width="46.46" height="45.34" fill="#fcd2ce"/>
<rect x="777.60" y="1338.86" width="46.46" height="45.34" fill="#ae017e"/>
<rect x="823.56" y="1338.86" width="46.46" height="45.34" fill="#d12791"/>
<rect x="869.52" y="1338.86" width="46.46" height="45.34" fill="#fcbcbd"/>
<rect x="282.00" y="1383.70" width="36.50" height="45.34" fill="#f991b0"/>
<rect x="318.00" y="1383.70" width="46.46" height="45.34" fill="#faa8b8"/>
<rect x="363.96" y="1383.70" width="46.46" height="45.34" fill="#55006d"/>
<rect x="409.92" y="1383.70" width="46.46" height="45.34" fill="#f991b0"/>
<rect x="455.88" y="1383.70" width="46.46" height="45.34" fill="#fef1ee"/>
<rect x="501.84" y="1383.70" width="46.46" height="45.34" fill="#fcc5c0"/>
<rect x="547.80" y="1383.70" width="46.46" height="45.34" fill="#49006a"/>
<rect x="593.76" y="1383.70" width="46.46" height="45.34" fill="#fcd2ce"/>
<rect x="639.72" y="1383.70" width="46.46" height="45.34" fill="#fff7f3"/>
<rect x="685.68" y="1383.70" width="46.46" height="45.34" fill="#feece8"/>
<rect x="731.64" y="1383.70" width="46.46" height="45.34" fill="#fcc5c0"/>
<rect x="777.60" y="1383.70" width="46.46" height="45.34" fill="#94017a"/>
<rect x="823.56" y="1383.70" width="46.46" height="45.34" fill="#e4419a"/>
<rect x="869.52" y="1383.70" width="46.46" height="45.34" fill="#fdd9d6"/>
<rect x="282.00" y="1428.54" width="36.50" height="45.34" fill="#fcccc7"/>
<rect x="318.00" y="1428.54" width="46.46" height="45.34" fill="#fcc5c0"/>
<rect x="363.96" y="1428.54" width="46.46" height="45.34" fill="#49006a"/>
<rect x="409.92" y="1428.54" width="46.46" height="45.34" fill="#fee6e2"/>
<rect x="455.88" y="1428.54" width="46.46" height="45.34" fill="#fcccc7"/>
<rect x="501.84" y="1428.54" width="46.46" height="45.34" fill="#fff7f3"/>
<rect x="547.80" y="1428.54" width="46.46" height="45.34" fill="#55006d"/>
<rect x="593.76" y="1428.54" width="46.46" height="45.34" fill="#fee6e2"/>
<rect x="639.72" y="1428.54" width="46.46" height="45.34" fill="#fde0dd"/>
<rect x="685.68" y="1428.54" width="46.46" height="45.34" fill="#fff7f3"/>
<rect x="731.64" y="1428.54" width="46.46" height="45.34" fill="#fcc5c0"/>
<rect x="777.60" y="1428.54" width="46.46" height="45.34" fill="#ba0e84"/>
<rect x="823.56" y="1428.54" width="46.46" height="45.34" fill="#6e0174"/>
<rect x="869.52" y="1428.54" width="46.46" height="45.34" fill="#fcbcbd"/>
<rect x="282.00" y="1473.38" width="36.50" height="45.34" fill="#faa8b8"/>
<rect x="318.00" y="1473.38" width="46.46" height="45.34" fill="#e4419a"/>
<rect x="363.96" y="1473.38" width="46.46" height="45.34" fill="#49006a"/>
<rect x="409.92" y="1473.38" width="46.46" height="45.34" fill="#fdd9d6"/>
<rect x="455.88" y="1473.38" width="46.46" height="45.34" fill="#fff7f3"/>
<rect x="501.84" y="1473.38" width="46.46" height="45.34" fill="#fcbcbd"/>
<rect x="547.80" y="1473.38" width="46.46" height="45.34" fill="#94017a"/>
<rect x="593.76" y="1473.38" width="46.46" height="45.34" fill="#fcd2ce"/>
<rect x="639.72" y="1473.38" width="46.46" height="45.34" fill="#fef1ee"/>
<rect x="685.68" y="1473.38" width="46.46" height="45.34" fill="#fef1ee"/>
<rect x="731.64" y="1473.38" width="46.46" height="45.34" fill="#fcc5c0"/>
<rect x="777.60" y="1473.38" width="46.46" height="45.34" fill="#55006d"/>
<rect x="823.56" y="1473.38" width="46.46" height="45.34" fill="#ba0e84"/>
<rect x="869.52" y="1473.38" width="46.46" height="45.34" fill="#faa8b8"/>
<rect x="282.00" y="1518.22" width="36.50" height="45.34" fill="#f991b0"/>
<rect x="318.00" y="1518.22" width="46.46" height="45.34" fill="#f768a1"/>
<rect x="363.96" y="1518.22" width="46.46" height="45.34" fill="#49006a"/>
<rect x="409.92" y="1518.22" width="46.46" height="45.34" fill="#fde0dd"/>
<rect x="455.88" y="1518.22" width="46.46" height="45.34" fill="#fef1ee"/>
<rect x="501.84" y="1518.22" width="46.46" height="45.34" fill="#fcccc7"/>
<rect x="547.80" y="1518.22" width="46.46" height="45.34" fill="#ae017e"/>
<rect x="593.76" y="1518.22" width="46.46" height="45.34" fill="#fff7f3"/>
<rect x="639.72" y="1518.22" width="46.46" height="45.34" fill="#fde0dd"/>
<rect x="685.68" y="1518.22" width="46.46" height="45.34" fill="#feece8"/>
<rect x="731.64" y="1518.22" width="46.46" height="45.34" fill="#fcd2ce"/>
<rect x="777.60" y="1518.22" width="46.46" height="45.34" fill="#ae017e"/>
<rect x="823.56" y="1518.22" width="46.46" height="45.34" fill="#55006d"/>
<rect x="869.52" y="1518.22" width="46.46" height="45.34" fill="#f991b0"/>
<rect x="282.00" y="1563.06" width="36.50" height="45.34" fill="#d12791"/>
<rect x="318.00" y="1563.06" width="46.46" height="45.34" fill="#49006a"/>
<rect x="363.96" y="1563.06" width="46.46" height="45.34" fill="#f884ab"/>
<rect x="409.92" y="1563.06" width="46.46" height="45.34" fill="#e4419a"/>
<rect x="455.88" y="1563.06" width="46.46" height="45.34" fill="#ba0e84"/>
<rect x="501.84" y="1563.06" width="46.46" height="45.34" fill="#7a0177"/>
<rect x="547.80" y="1563.06" width="46.46" height="45.34" fill="#ae017e"/>
<rect x="593.76" y="1563.06" width="46.46" height="45.34" fill="#fbb2ba"/>
<rect x="639.72" y="1563.06" width="46.46" height="45.34" fill="#f05b9e"/>
<rect x="685.68" y="1563.06" width="46.46" height="45.34" fill="#ea4e9c"/>
<rect x="731.64" y="1563.06" width="46.46" height="45.34" fill="#94017a"/>
<rect x="777.60" y="1563.06" width="46.46" height="45.34" fill="#fff7f3"/>
<rect x="823.56" y="1563.06" width="46.46" height="45.34" fill="#fa9fb5"/>
<rect x="869.52" y="1563.06" width="46.46" height="45.34" fill="#ae017e"/>
<rect x="282.00" y="1607.90" width="36.50" height="45.34" fill="#e4419a"/>
<rect x="318.00" y="1607.90" width="46.46" height="45.34" fill="#7a0177"/>
<rect x="363.96" y="1607.90" width="46.46" height="45.34" fill="#fa9fb5"/>
<rect x="409.92" y="1607.90" width="46.46" height="45.34" fill="#fbb2ba"/>
<rect x="455.88" y="1607.90" width="46.46" height="45.34" fill="#fff7f3"/>
<rect x="501.84" y="1607.90" width="46.46" height="45.34" fill="#ae017e"/>
<rect x="547.80" y="1607.90" width="46.46" height="45.34" fill="#ea4e9c"/>
<rect x="593.76" y="1607.90" width="46.46" height="45.34" fill="#e4419a"/>
<rect x="639.72" y="1607.90" width="46.46" height="45.34" fill="#49006a"/>
<rect x="685.68" y="1607.90" width="46.46" height="45.34" fill="#ba0e84"/>
<rect x="731.64" y="1607.90" width="46.46" height="45.34" fill="#c61a8a"/>
<rect x="777.60" y="1607.90" width="46.46" height="45.34" fill="#c61a8a"/>
<rect x="823.56" y="1607.90" width="46.46" height="45.34" fill="#ba0e84"/>
<rect x="869.52" y="1607.90" width="46.46" height="45.34" fill="#e4419a"/>
<rect x="282.00" y="1652.74" width="36.50" height="45.34" fill="#fff7f3"/>
<rect x="318.00" y="1652.74" width="46.46" height="45.34" fill="#d12791"/>
<rect x="363.96" y="1652.74" width="46.46" height="45.34" fill="#49006a"/>
<rect x="409.92" y="1652.74" width="46.46" height="45.34" fill="#f768a1"/>
<rect x="455.88" y="1652.74" width="46.46" height="45.34" fill="#ba0e84"/>
<rect x="501.84" y="1652.74" width="46.46" height="45.34" fill="#f768a1"/>
<rect x="547.80" y="1652.74" width="46.46" height="45.34" fill="#fa9fb5"/>
<rect x="593.76" y="1652.74" width="46.46" height="45.34" fill="#d12791"/>
<rect x="639.72" y="1652.74" width="46.46" height="45.34" fill="#49006a"/>
<rect x="685.68" y="1652.74" width="46.46" height="45.34" fill="#fcc5c0"/>
<rect x="731.64" y="1652.74" width="46.46" height="45.34" fill="#f884ab"/>
<rect x="777.60" y="1652.74" width="46.46" height="45.34" fill="#faa8b8"/>
<rect x="823.56" y="1652.74" width="46.46" height="45.34" fill="#a1017c"/>
<rect x="869.52" y="1652.74" width="46.46" height="45.34" fill="#f991b0"/>
<rect x="282.00" y="1697.58" width="36.50" height="45.34" fill="#fbb2ba"/>
<rect x="318.00" y="1697.58" width="46.46" height="45.34" fill="#fff7f3"/>
<rect x="363.96" y="1697.58" width="46.46" height="45.34" fill="#f768a1"/>
<rect x="409.92" y="1697.58" width="46.46" height="45.34" fill="#49006a"/>
<rect x="455.88" y="1697.58" width="46.46" height="45.34" fill="#feece8"/>
<rect x="501.84" y="1697.58" width="46.46" height="45.34" fill="#ea4e9c"/>
<rect x="547.80" y="1697.58" width="46.46" height="45.34" fill="#fbb2ba"/>
<rect x="593.76" y="1697.58" width="46.46" height="45.34" fill="#fa9fb5"/>
<rect x="639.72" y="1697.58" width="46.46" height="45.34" fill="#e4419a"/>
<rect x="685.68" y="1697.58" width="46.46" height="45.34" fill="#feece8"/>
<rect x="731.64" y="1697.58" width="46.46" height="45.34" fill="#f884ab"/>
<rect x="777.60" y="1697.58" width="46.46" height="45.34" fill="#faa8b8"/>
<rect x="823.56" y="1697.58" width="46.46" height="45.34" fill="#ba0e84"/>
<rect x="869.52" y="1697.58" width="46.46" height="45.34" fill="#f991b0"/>
<rect x="282.00" y="1742.42" width="36.50" height="45.34" fill="#c61a8a"/>
<rect x="318.00" y="1742.42" width="46.46" height="45.34" fill="#fcd2ce"/>
<rect x="363.96" y="1742.42" width="46.46" height="45.34" fill="#a1017c"/>
<rect x="409.92" y="1742.42" width="46.46" height="45.34" fill="#fcbcbd"/>
<rect x="455.88" y="1742.42" width="46.46" height="45.34" fill="#fcd2ce"/>
<rect x="501.84" y="1742.42" width="46.46" height="45.34" fill="#faa8b8"/>
<rect x="547.80" y="1742.42" width="46.46" height="45.34" fill="#fff7f3"/>
<rect x="593.76" y="1742.42" width="46.46" height="45.34" fill="#94017a"/>
<rect x="639.72" y="1742.42" width="46.46" height="45.34" fill="#e4419a"/>
<rect x="685.68" y="1742.42" width="46.46" height="45.34" fill="#fee6e2"/>
<rect x="731.64" y="1742.42" width="46.46" height="45.34" fill="#f991b0"/>
<rect x="777.60" y="1742.42" width="46.46" height="45.34" fill="#94017a"/>
<rect x="823.56" y="1742.42" width="46.46" height="45.34" fill="#49006a"/>
<rect x="869.52" y="1742.42" width="46.46" height="45.34" fill="#fde0dd"/>
<rect x="282.00" y="1787.26" width="36.50" height="45.34" fill="#fdd9d6"/>
<rect x="318.00" y="1787.26" width="46.46" height="45.34" fill="#faa8b8"/>
<rect x="363.96" y="1787.26" width="46.46" height="45.34" fill="#ea4e9c"/>
<rect x="409.92" y="1787.26" width="46.46" height="45.34" fill="#f876a6"/>
<rect x="455.88" y="1787.26" width="46.46" height="45.34" fill="#f768a1"/>
<rect x="501.84" y="1787.26" width="46.46" height="45.34" fill="#fcd2ce"/>
<rect x="547.80" y="1787.26" width="46.46" height="45.34" fill="#fff7f3"/>
<rect x="593.76" y="1787.26" width="46.46" height="45.34" fill="#e4419a"/>
<rect x="639.72" y="1787.26" width="46.46" height="45.34" fill="#fcbcbd"/>
<rect x="685.68" y="1787.26" width="46.46" height="45.34" fill="#fbb2ba"/>
<rect x="731.64" y="1787.26" width="46.46" height="45.34" fill="#f05b9e"/>
<rect x="777.60" y="1787.26" width="46.46" height="45.34" fill="#49006a"/>
<rect x="823.56" y="1787.26" width="46.46" height="45.34" fill="#870179"/>
<rect x="869.52" y="1787.26" width="46.46" height="45.34" fill="#f05b9e"/>
<rect x="282.00" y="1832.10" width="36.50" height="45.34" fill="#f991b0"/>
<rect x="318.00" y="1832.10" width="46.46" height="45.34" fill="#ba0e84"/>
<rect x="363.96" y="1832.10" width="46.46" height="45.34" fill="#49006a"/>
<rect x="409.92" y="1832.10" width="46.46" height="45.34" fill="#870179"/>
<rect x="455.88" y="1832.10" width="46.46" height="45.34" fill="#fa9fb5"/>
<rect x="501.84" y="1832.10" width="46.46" height="45.34" fill="#7a0177"/>
<rect x="547.80" y="1832.10" width="46.46" height="45.34" fill="#fa9fb5"/>
<rect x="593.76" y="1832.10" width="46.46" height="45.34" fill="#f884ab"/>
<rect x="639.72" y="1832.10" width="46.46" height="45.34" fill="#fff7f3"/>
<rect x="685.68" y="1832.10" width="46.46" height="45.34" fill="#faa8b8"/>
<rect x="731.64" y="1832.10" width="46.46" height="45.34" fill="#f876a6"/>
<rect x="777.60" y="1832.10" width="46.46" height="45.34" fill="#d12791"/>
<rect x="823.56" y="1832.10" width="46.46" height="45.34" fill="#6e0174"/>
<rect x="869.52" y="1832.10" width="46.46" height="45.34" fill="#ba0e84"/>
<rect x="282.00" y="1876.94" width="36.50" height="45.34" fill="#a1017c"/>
<rect x="318.00" y="1876.94" width="46.46" height="45.34" fill="#fdd9d6"/>
<rect x="363.96" y="1876.94" width="46.46" height="45.34" fill="#fa9fb5"/>
<rect x="409.92" y="1876.94" width="46.46" height="45.34" fill="#7a0177"/>
<rect x="455.88" y="1876.94" width="46.46" height="45.34" fill="#fcbcbd"/>
<rect x="501.84" y="1876.94" width="46.46" height="45.34" fill="#f768a1"/>
<rect x="547.80" y="1876.94" width="46.46" height="45.34" fill="#fff7f3"/>
<rect x="593.76" y="1876.94" width="46.46" height="45.34" fill="#55006d"/>
<rect x="639.72" y="1876.94" width="46.46" height="45.34" fill="#fa9fb5"/>
<rect x="685.68" y="1876.94" width="46.46" height="45.34" fill="#49006a"/>
<rect x="731.64" y="1876.94" width="46.46" height="45.34" fill="#94017a"/>
<rect x="777.60" y="1876.94" width="46.46" height="45.34" fill="#d12791"/>
<rect x="823.56" y="1876.94" width="46.46" height="45.34" fill="#dd3497"/>
<rect x="869.52" y="1876.94" width="46.46" height="45.34" fill="#55006d"/>
<rect x="282.00" y="1921.78" width="36.50" height="45.34" fill="#d12791"/>
<rect x="318.00" y="1921.78" width="46.46" height="45.34" fill="#fff7f3"/>
<rect x="363.96" y="1921.78" width="46.46" height="45.34" fill="#55006d"/>
<rect x="409.92" y="1921.78" width="46.46" height="45.34" fill="#fcc5c0"/>
<rect x="455.88" y="1921.78" width="46.46" height="45.34" fill="#fdd9d6"/>
<rect x="501.84" y="1921.78" width="46.46" height="45.34" fill="#dd3497"/>
<rect x="547.80" y="1921.78" width="46.46" height="45.34" fill="#fcc5c0"/>
<rect x="593.76" y="1921.78" width="46.46" height="45.34" fill="#a1017c"/>
<rect x="639.72" y="1921.78" width="46.46" height="45.34" fill="#fbb2ba"/>
<rect x="685.68" y="1921.78" width="46.46" height="45.34" fill="#dd3497"/>
<rect x="731.64" y="1921.78" width="46.46" height="45.34" fill="#870179"/>
<rect x="777.60" y="1921.78" width="46.46" height="45.34" fill="#fbb2ba"/>
<rect x="823.56" y="1921.78" width="46.46" height="45.34" fill="#f876a6"/>
<rect x="869.52" y="1921.78" width="46.46" height="45.34" fill="#f991b0"/>
<rect x="282.00" y="1966.62" width="36.50" height="45.34" fill="#94017a"/>
<rect x="318.00" y="1966.62" width="46.46" height="45.34" fill="#fa9fb5"/>
<rect x="363.96" y="1966.62" width="46.46" height="45.34" fill="#620070"/>
<rect x="409.92" y="1966.62" width="46.46" height="45.34" fill="#ea4e9c"/>
<rect x="455.88" y="1966.62" width="46.46" height="45.34" fill="#e4419a"/>
<rect x="501.84" y="1966.62" width="46.46" height="45.34" fill="#49006a"/>
<rect x="547.80" y="1966.62" width="46.46" height="45.34" fill="#fff7f3"/>
<rect x="593.76" y="1966.62" width="46.46" height="45.34" fill="#ea4e9c"/>
<rect x="639.72" y="1966.62" width="46.46" height="45.34" fill="#dd3497"/>
<rect x="685.68" y="1966.62" width="46.46" height="45.34" fill="#dd3497"/>
<rect x="731.64" y="1966.62" width="46.46" height="45.34" fill="#94017a"/>
<rect x="777.60" y="1966.62" width="46.46" height="45.34" fill="#e4419a"/>
<rect x="823.56" y="1966.62" width="46.46" height="45.34" fill="#d12791"/>
<rect x="869.52" y="1966.62" width="46.46" height="45.34" fill="#d12791"/>
</g>
<path d="M260.0 60.9L169.9 60.9M260.0 105.8L169.9 105.8M169.9 60.9L169.9 105.8M260.0 195.4L190.6 195.4M260.0 240.3L190.6 240.3M190.6 195.4L190.6 240.3M260.0 150.6L181.6 150.6M190.6 217.9L181.6 217.9M181.6 150.6L181.6 217.9M260.0 330.0L190.6 330.0M260.0 374.8L190.6 374.8M190.6 330.0L190.6 374.8M260.0 285.1L181.6 285.1M190.6 352.4L181.6 352.4M181.6 285.1L181.6 352.4M260.0 464.5L214.7 464.5M260.0 509.3L214.7 509.3M214.7 464.5L214.7 509.3M260.0 419.6L202.5 419.6M214.7 486.9L202.5 486.9M202.5 419.6L202.5 486.9M260.0 599.0L212.0 599.0M260.0 643.8L212.0 643.8M212.0 599.0L212.0 643.8M260.0 554.2L194.2 554.2M212.0 621.4L194.2 621.4M194.2 554.2L194.2 621.4M202.5 453.3L181.6 453.3M194.2 587.8L181.6 587.8M181.6 453.3L181.6 587.8M181.6 318.8L169.9 318.8M181.6 520.5L169.9 520.5M169.9 318.8L169.9 520.5M260.0 733.5L212.0 733.5M260.0 778.4L212.0 778.4M212.0 733.5L212.0 778.4M260.0 688.7L176.0 688.7M212.0 755.9L176.0 755.9M176.0 688.7L176.0 755.9M260.0 912.9L212.0 912.9M260.0 957.7L212.0 957.7M212.0 912.9L212.0 957.7M260.0 1002.6L202.5 1002.6M260.0 1047.4L202.5 1047.4M202.5 1002.6L202.5 1047.4M212.0 935.3L190.4 935.3M202.5 1025.0L190.4 1025.0M190.4 935.3L190.4 1025.0M260.0 868.0L182.2 868.0M190.4 980.1L182.2 980.1M182.2 868.0L182.2 980.1M260.0 823.2L181.0 823.2M182.2 924.1L181.0 924.1M181.0 823.2L181.0 924.1M260.0 1137.1L208.7 1137.1M260.0 1181.9L208.7 1181.9M208.7 1137.1L208.7 1181.9M260.0 1226.8L220.8 1226.8M260.0 1271.6L220.8 1271.6M220.8 1226.8L220.8 1271.6M260.0 1361.3L244.4 1361.3M260.0 1406.1L244.4 1406.1M244.4 1361.3L244.4 1406.1M260.0 1495.8L235.6 1495.8M260.0 1540.6L235.6 1540.6M235.6 1495.8L235.6 1540.6M260.0 1451.0L226.0 1451.0M235.6 1518.2L226.0 1518.2M226.0 1451.0L226.0 1518.2M244.4 1383.7L223.5 1383.7M226.0 1484.6L223.5 1484.6M223.5 1383.7L223.5 1484.6M260.0 1316.4L214.7 1316.4M223.5 1434.1L214.7 1434.1M214.7 1316.4L214.7 1434.1M220.8 1249.2L205.0 1249.2M214.7 1375.3L205.0 1375.3M205.0 1249.2L205.0 1375.3M208.7 1159.5L202.5 1159.5M205.0 1312.2L202.5 1312.2M202.5 1159.5L202.5 1312.2M260.0 1092.2L178.9 1092.2M202.5 1235.9L178.9 1235.9M178.9 1092.2L178.9 1235.9M181.0 873.6L172.8 873.6M178.9 1164.1L172.8 1164.1M172.8 873.6L172.8 1164.1M176.0 722.3L166.8 722.3M172.8 1018.8L166.8 1018.8M166.8 722.3L166.8 1018.8M169.9 419.6L154.7 419.6M166.8 870.6L154.7 870.6M154.7 419.6L154.7 870.6M260.0 1585.5L169.9 1585.5M260.0 1630.3L169.9 1630.3M169.9 1585.5L169.9 1630.3M260.0 1764.8L194.2 1764.8M260.0 1809.7L194.2 1809.7M194.2 1764.8L194.2 1809.7M260.0 1720.0L176.0 1720.0M194.2 1787.3L176.0 1787.3M176.0 1720.0L176.0 1787.3M260.0 1675.2L166.8 1675.2M176.0 1753.6L166.8 1753.6M166.8 1675.2L166.8 1753.6M260.0 1944.2L190.4 1944.2M260.0 1989.0L190.4 1989.0M190.4 1944.2L190.4 1989.0M260.0 1899.4L176.0 1899.4M190.4 1966.6L176.0 1966.6M176.0 1899.4L176.0 1966.6M260.0 1854.5L166.8 1854.5M176.0 1933.0L166.8 1933.0M166.8 1854.5L166.8 1933.0M166.8 1714.4L160.6 1714.4M166.8 1893.8L160.6 1893.8M160.6 1714.4L160.6 1893.8M169.9 1607.9L151.4 1607.9M160.6 1804.1L151.4 1804.1M151.4 1607.9L151.4 1804.1M154.7 645.1L148.5 645.1M151.4 1706.0L148.5 1706.0M148.5 645.1L148.5 1706.0M181.6 184.2L133.7 184.2M148.5 1175.5L133.7 1175.5M133.7 184.2L133.7 1175.5M169.9 83.3L119.4 83.3M133.7 679.9L119.4 679.9M119.4 83.3L119.4 679.9" stroke="#8f8f8f" stroke-width="2.3" fill="none" stroke-linecap="square"/>
<rect x="259.6" y="40.5" width="23" height="622.5" fill="#00008b"/>
<rect x="260.6" y="666" width="22" height="1345.5" fill="#3cb371"/>
<rect x="916.5" y="59.8" width="12" height="2.2" fill="#222"/>
<text x="937.5" y="73.3" font-size="29.8" fill="#1a1a1a" stroke="#1a1a1a" stroke-width="0.35">Cell signaling</text>
<rect x="916.5" y="104.7" width="12" height="2.2" fill="#222"/>
<text x="937.5" y="118.2" font-size="29.8" fill="#1a1a1a" stroke="#1a1a1a" stroke-width="0.35">Drug efflux transporter/pump</text>
<rect x="916.5" y="149.5" width="12" height="2.2" fill="#222"/>
<text x="937.5" y="163.0" font-size="29.8" fill="#1a1a1a" stroke="#1a1a1a" stroke-width="0.35">DNA polymerase</text>
<rect x="916.5" y="194.3" width="12" height="2.2" fill="#222"/>
<text x="937.5" y="207.8" font-size="29.8" fill="#1a1a1a" stroke="#1a1a1a" stroke-width="0.35">RNA processing</text>
<rect x="916.5" y="239.2" width="12" height="2.2" fill="#222"/>
<text x="937.5" y="252.7" font-size="29.8" fill="#1a1a1a" stroke="#1a1a1a" stroke-width="0.35">Ribosome</text>
<rect x="916.5" y="284.0" width="12" height="2.2" fill="#222"/>
<text x="937.5" y="297.5" font-size="29.8" fill="#1a1a1a" stroke="#1a1a1a" stroke-width="0.35">Drug resistance</text>
<rect x="916.5" y="328.9" width="12" height="2.2" fill="#222"/>
<text x="937.5" y="342.4" font-size="29.8" fill="#1a1a1a" stroke="#1a1a1a" stroke-width="0.35">Cysteine and methionine metabolism</text>
<rect x="916.5" y="373.7" width="12" height="2.2" fill="#222"/>
<text x="937.5" y="388.0" font-size="33.6" font-weight="bold" fill="#d6002b">Nitrogen metabolism</text>
<rect x="916.5" y="418.5" width="12" height="2.2" fill="#222"/>
<text x="937.5" y="432.0" font-size="29.8" fill="#1a1a1a" stroke="#1a1a1a" stroke-width="0.35">Aromatic amino acid metabolism</text>
<rect x="916.5" y="463.4" width="12" height="2.2" fill="#222"/>
<text x="937.5" y="476.9" font-size="29.8" fill="#1a1a1a" stroke="#1a1a1a" stroke-width="0.35">Biosynthesis of secondary metabolites</text>
<rect x="916.5" y="508.2" width="12" height="2.2" fill="#222"/>
<text x="937.5" y="521.7" font-size="29.8" fill="#1a1a1a" stroke="#1a1a1a" stroke-width="0.35">Other terpenoid biosynthesis</text>
<rect x="916.5" y="553.1" width="12" height="2.2" fill="#222"/>
<text x="937.5" y="566.6" font-size="29.8" fill="#1a1a1a" stroke="#1a1a1a" stroke-width="0.35">Photosynthesis</text>
<rect x="916.5" y="597.9" width="12" height="2.2" fill="#222"/>
<text x="937.5" y="611.4" font-size="29.8" fill="#1a1a1a" stroke="#1a1a1a" stroke-width="0.35">RNA polymerase</text>
<rect x="916.5" y="642.7" width="12" height="2.2" fill="#222"/>
<text x="937.5" y="656.2" font-size="29.8" fill="#1a1a1a" stroke="#1a1a1a" stroke-width="0.35">Serine and threonine metabolism</text>
<rect x="916.5" y="687.6" width="12" height="2.2" fill="#222"/>
<text x="937.5" y="701.1" font-size="29.8" fill="#1a1a1a" stroke="#1a1a1a" stroke-width="0.35">Terpenoid backbone biosynthesis</text>
<rect x="916.5" y="732.4" width="12" height="2.2" fill="#222"/>
<text x="937.5" y="745.9" font-size="29.8" fill="#1a1a1a" stroke="#1a1a1a" stroke-width="0.35">Carbon fixation</text>
<rect x="916.5" y="777.3" width="12" height="2.2" fill="#222"/>
<text x="937.5" y="790.8" font-size="29.8" fill="#1a1a1a" stroke="#1a1a1a" stroke-width="0.35">Other carbohydrate metabolism</text>
<rect x="916.5" y="822.1" width="12" height="2.2" fill="#222"/>
<text x="937.5" y="835.6" font-size="29.8" fill="#1a1a1a" stroke="#1a1a1a" stroke-width="0.35">Branched-chain amino acid metabolism</text>
<rect x="916.5" y="866.9" width="12" height="2.2" fill="#222"/>
<text x="937.5" y="880.4" font-size="29.8" fill="#1a1a1a" stroke="#1a1a1a" stroke-width="0.35">Methane metabolism</text>
<rect x="916.5" y="911.8" width="12" height="2.2" fill="#222"/>
<text x="937.5" y="925.3" font-size="29.8" fill="#1a1a1a" stroke="#1a1a1a" stroke-width="0.35">Aminoacyl tRNA</text>
<rect x="916.5" y="956.6" width="12" height="2.2" fill="#222"/>
<text x="937.5" y="970.1" font-size="29.8" fill="#1a1a1a" stroke="#1a1a1a" stroke-width="0.35">Nucleotide sugar</text>
<rect x="916.5" y="1001.5" width="12" height="2.2" fill="#222"/>
<text x="937.5" y="1015.0" font-size="29.8" fill="#1a1a1a" stroke="#1a1a1a" stroke-width="0.35">Bacterial secretion system</text>
<rect x="916.5" y="1046.3" width="12" height="2.2" fill="#222"/>
<text x="937.5" y="1059.8" font-size="29.8" fill="#1a1a1a" stroke="#1a1a1a" stroke-width="0.35">Polyamine biosynthesis</text>
<rect x="916.5" y="1091.1" width="12" height="2.2" fill="#222"/>
<text x="937.5" y="1104.6" font-size="29.8" fill="#1a1a1a" stroke="#1a1a1a" stroke-width="0.35">Histidine metabolism</text>
<rect x="916.5" y="1136.0" width="12" height="2.2" fill="#222"/>
<text x="937.5" y="1149.5" font-size="29.8" fill="#1a1a1a" stroke="#1a1a1a" stroke-width="0.35">Arginine and proline metabolism</text>
<rect x="916.5" y="1180.8" width="12" height="2.2" fill="#222"/>
<text x="937.5" y="1194.3" font-size="29.8" fill="#1a1a1a" stroke="#1a1a1a" stroke-width="0.35">Lipid metabolism</text>
<rect x="916.5" y="1225.7" width="12" height="2.2" fill="#222"/>
<text x="937.5" y="1239.2" font-size="29.8" fill="#1a1a1a" stroke="#1a1a1a" stroke-width="0.35">Mineral and organic ion transport system</text>
<rect x="916.5" y="1270.5" width="12" height="2.2" fill="#222"/>
<text x="937.5" y="1284.0" font-size="29.8" fill="#1a1a1a" stroke="#1a1a1a" stroke-width="0.35">Other amino acid metabolism</text>
<rect x="916.5" y="1315.3" width="12" height="2.2" fill="#222"/>
<text x="937.5" y="1328.8" font-size="29.8" fill="#1a1a1a" stroke="#1a1a1a" stroke-width="0.35">Central carbohydrate metabolism</text>
<rect x="916.5" y="1360.2" width="12" height="2.2" fill="#222"/>
<text x="937.5" y="1373.7" font-size="29.8" fill="#1a1a1a" stroke="#1a1a1a" stroke-width="0.35">Cofactor and vitamin biosynthesis</text>
<rect x="916.5" y="1405.0" width="12" height="2.2" fill="#222"/>
<text x="937.5" y="1418.5" font-size="29.8" fill="#1a1a1a" stroke="#1a1a1a" stroke-width="0.35">Lysine metabolism</text>
<rect x="916.5" y="1449.9" width="12" height="2.2" fill="#222"/>
<text x="937.5" y="1463.4" font-size="29.8" fill="#1a1a1a" stroke="#1a1a1a" stroke-width="0.35">Pyrimidine metabolism</text>
<rect x="916.5" y="1494.7" width="12" height="2.2" fill="#222"/>
<text x="937.5" y="1508.2" font-size="29.8" fill="#1a1a1a" stroke="#1a1a1a" stroke-width="0.35">Fatty acid metabolism</text>
<rect x="916.5" y="1539.5" width="12" height="2.2" fill="#222"/>
<text x="937.5" y="1553.0" font-size="29.8" fill="#1a1a1a" stroke="#1a1a1a" stroke-width="0.35">Purine metabolism</text>
<rect x="916.5" y="1584.4" width="12" height="2.2" fill="#222"/>
<text x="937.5" y="1597.9" font-size="29.8" fill="#1a1a1a" stroke="#1a1a1a" stroke-width="0.35">ATP synthesis</text>
<rect x="916.5" y="1629.2" width="12" height="2.2" fill="#222"/>
<text x="937.5" y="1642.7" font-size="29.8" fill="#1a1a1a" stroke="#1a1a1a" stroke-width="0.35">Sulfur metabolism</text>
<rect x="916.5" y="1674.1" width="12" height="2.2" fill="#222"/>
<text x="937.5" y="1687.6" font-size="29.8" fill="#1a1a1a" stroke="#1a1a1a" stroke-width="0.35">Protein processing</text>
<rect x="916.5" y="1718.9" width="12" height="2.2" fill="#222"/>
<text x="937.5" y="1732.4" font-size="29.8" fill="#1a1a1a" stroke="#1a1a1a" stroke-width="0.35">Saccharide, polyol, and lipid transport system</text>
<rect x="916.5" y="1763.7" width="12" height="2.2" fill="#222"/>
<text x="937.5" y="1777.2" font-size="29.8" fill="#1a1a1a" stroke="#1a1a1a" stroke-width="0.35">ABC-2 type and other transport systems</text>
<rect x="916.5" y="1808.6" width="12" height="2.2" fill="#222"/>
<text x="937.5" y="1822.1" font-size="29.8" fill="#1a1a1a" stroke="#1a1a1a" stroke-width="0.35">Lipopolysaccharide metabolism</text>
<rect x="916.5" y="1853.4" width="12" height="2.2" fill="#222"/>
<text x="937.5" y="1866.9" font-size="29.8" fill="#1a1a1a" stroke="#1a1a1a" stroke-width="0.35">Phosphate and amino acid transport system</text>
<rect x="916.5" y="1898.3" width="12" height="2.2" fill="#222"/>
<text x="937.5" y="1911.8" font-size="29.8" fill="#1a1a1a" stroke="#1a1a1a" stroke-width="0.35">Two-component regulatory system</text>
<rect x="916.5" y="1943.1" width="12" height="2.2" fill="#222"/>
<text x="937.5" y="1956.6" font-size="29.8" fill="#1a1a1a" stroke="#1a1a1a" stroke-width="0.35">Metallic cation, iron-siderophore and vitamin B12 transport system</text>
<rect x="916.5" y="1987.9" width="12" height="2.2" fill="#222"/>
<text x="937.5" y="2001.4" font-size="29.8" fill="#1a1a1a" stroke="#1a1a1a" stroke-width="0.35">Peptide and nickel transport system</text>
<polygon points="286,2003 414,2002 414,2023 287,2024" fill="#3a3339"/>
<polygon points="414,2002 783,2000.5 783,2022 414,2023" fill="#ffc709"/>
<polygon points="783,2002 909,2001 909.5,2022 783,2023" fill="#3a3339"/>
<rect x="294.2" y="2023" width="1.6" height="4" fill="#444"/>
<text x="294.0" y="2058" font-size="26" text-anchor="middle" fill="#1c1c1c">0</text>
<rect x="340.2" y="2023" width="1.6" height="4" fill="#444"/>
<text x="340.0" y="2058" font-size="26" text-anchor="middle" fill="#1c1c1c">1</text>
<rect x="386.1" y="2023" width="1.6" height="4" fill="#444"/>
<text x="385.9" y="2058" font-size="26" text-anchor="middle" fill="#1c1c1c">4</text>
<rect x="432.1" y="2023" width="1.6" height="4" fill="#444"/>
<text x="431.9" y="2058" font-size="26" text-anchor="middle" fill="#1c1c1c">6</text>
<rect x="478.1" y="2023" width="1.6" height="4" fill="#444"/>
<text x="477.9" y="2058" font-size="26" text-anchor="middle" fill="#1c1c1c">9</text>
<rect x="524.0" y="2023" width="1.6" height="4" fill="#444"/>
<text x="523.8" y="2058" font-size="26" text-anchor="middle" fill="#1c1c1c">11</text>
<rect x="570.0" y="2023" width="1.6" height="4" fill="#444"/>
<text x="569.8" y="2058" font-size="26" text-anchor="middle" fill="#1c1c1c">12</text>
<rect x="615.9" y="2023" width="1.6" height="4" fill="#444"/>
<text x="615.7" y="2058" font-size="26" text-anchor="middle" fill="#1c1c1c">13</text>
<rect x="661.9" y="2023" width="1.6" height="4" fill="#444"/>
<text x="661.7" y="2058" font-size="26" text-anchor="middle" fill="#1c1c1c">14</text>
<rect x="707.9" y="2023" width="1.6" height="4" fill="#444"/>
<text x="707.7" y="2058" font-size="26" text-anchor="middle" fill="#1c1c1c">15</text>
<rect x="753.8" y="2023" width="1.6" height="4" fill="#444"/>
<text x="753.6" y="2058" font-size="26" text-anchor="middle" fill="#1c1c1c">18</text>
<rect x="799.8" y="2023" width="1.6" height="4" fill="#444"/>
<text x="799.6" y="2058" font-size="26" text-anchor="middle" fill="#1c1c1c">20</text>
<rect x="845.7" y="2023" width="1.6" height="4" fill="#444"/>
<text x="845.5" y="2058" font-size="26" text-anchor="middle" fill="#1c1c1c">22</text>
<rect x="891.7" y="2023" width="1.6" height="4" fill="#444"/>
<text x="891.5" y="2058" font-size="26" text-anchor="middle" fill="#1c1c1c">23</text>
<defs><linearGradient id="cb" x1="0" y1="1" x2="0" y2="0">
<stop offset="0.000" stop-color="#fff7f3"/>
<stop offset="0.125" stop-color="#fde0dd"/>
<stop offset="0.250" stop-color="#fcc5c0"/>
<stop offset="0.375" stop-color="#fa9fb5"/>
<stop offset="0.500" stop-color="#f768a1"/>
<stop offset="0.625" stop-color="#dd3497"/>
<stop offset="0.750" stop-color="#ae017e"/>
<stop offset="0.875" stop-color="#7a0177"/>
<stop offset="1.000" stop-color="#49006a"/>
</linearGradient></defs>
<rect x="1525" y="15.6" width="57.8" height="249.8" fill="url(#cb)"/>
<rect x="1582.8" y="15.2" width="7.5" height="2" fill="#333"/>
<text x="1596.3" y="27.9" font-size="33.2" fill="#1c1c1c">1.0</text>
<rect x="1582.8" y="140.0" width="7.5" height="2" fill="#333"/>
<text x="1596.3" y="152.7" font-size="33.2" fill="#1c1c1c">0.5</text>
<rect x="1582.8" y="264.7" width="7.5" height="2" fill="#333"/>
<text x="1596.3" y="277.4" font-size="33.2" fill="#1c1c1c">0.0</text>
<text x="11.3" y="108.3" font-size="76" fill="#000">a.</text>
<text x="-8.5" y="2109" font-size="76" fill="#000">b.</text>
<polyline points="357.1,2375.1 419.3,2240.9 481.5,2264.7 543.7,2230.1 605.9,2349.1 668.1,2359.9 730.3,2381.6 792.5,2375.1 854.7,2370.8 916.9,2377.2 979.1,2381.6 1041.3,2385.9 1103.5,2381.6 1165.7,2392.4" fill="none" stroke="#00008b" stroke-width="1.9" stroke-linejoin="round"/>
<polyline points="357.1,2409.7 419.3,2422.7 481.5,2403.2 543.7,2366.4 605.9,2370.8 668.1,2243.0 730.3,2370.8 792.5,2392.4 854.7,2381.6 916.9,2392.4 979.1,2370.8 1041.3,2370.8 1103.5,2366.4 1165.7,2381.6" fill="none" stroke="#00008b" stroke-width="1.9" stroke-linejoin="round"/>
<polyline points="357.1,2297.7 419.3,2457.2 481.5,2399.2 543.7,2326.7 605.9,2355.7 668.1,2442.7 730.3,2384.7 792.5,2326.7 854.7,2283.2 916.9,2348.5 979.1,2268.7 1041.3,2500.8 1103.5,2442.7 1165.7,2355.7" fill="none" stroke="#00008b" stroke-width="1.9" stroke-linejoin="round"/>
<polyline points="357.1,2369.2 419.3,2413.5 481.5,2404.7 543.7,2307.0 605.9,2378.0 668.1,2431.3 730.3,2404.7 792.5,2289.3 854.7,2293.7 916.9,2351.4 979.1,2404.7 1041.3,2386.9 1103.5,2386.9 1165.7,2369.2" fill="none" stroke="#00008b" stroke-width="1.9" stroke-linejoin="round"/>
<polyline points="357.1,2372.3 419.3,2394.4 481.5,2313.5 543.7,2346.6 605.9,2339.2 668.1,2261.0 730.3,2387.0 792.5,2361.3 854.7,2372.3 916.9,2401.8 979.1,2416.5 1041.3,2365.0 1103.5,2372.3 1165.7,2409.7" fill="none" stroke="#00008b" stroke-width="1.9" stroke-linejoin="round"/>
<polyline points="357.1,2354.7 419.3,2376.3 481.5,2346.0 543.7,2415.3 605.9,2333.0 668.1,2285.4 730.3,2320.0 792.5,2380.6 854.7,2372.0 916.9,2398.0 979.1,2423.9 1041.3,2398.0 1103.5,2398.0 1165.7,2389.3" fill="none" stroke="#00008b" stroke-width="1.9" stroke-linejoin="round"/>
<polyline points="357.1,2400.7 419.3,2429.9 481.5,2274.0 543.7,2317.9 605.9,2337.4 668.1,2410.4 730.3,2347.1 792.5,2337.4 854.7,2420.1 916.9,2381.2 979.1,2381.2 1041.3,2381.2 1103.5,2371.4 1165.7,2400.7" fill="none" stroke="#00008b" stroke-width="1.9" stroke-linejoin="round"/>
<polyline points="357.1,2383.7 419.3,2357.5 481.5,2350.3 543.7,2386.1 605.9,2409.9 668.1,2402.7 730.3,2359.9 792.5,2398.0 854.7,2400.3 916.9,2345.6 979.1,2343.2 1041.3,2340.8 1103.5,2333.7 1165.7,2378.9" fill="none" stroke="#3cb371" stroke-width="1.9" stroke-linejoin="round"/>
<polyline points="357.1,2380.4 419.3,2366.5 481.5,2354.4 543.7,2399.4 605.9,2363.1 668.1,2375.2 730.3,2344.0 792.5,2392.5 854.7,2394.3 916.9,2373.5 979.1,2363.1 1041.3,2352.7 1103.5,2352.7 1165.7,2378.7" fill="none" stroke="#3cb371" stroke-width="1.9" stroke-linejoin="round"/>
<polyline points="357.1,2393.0 419.3,2349.7 481.5,2362.7 543.7,2416.8 605.9,2347.6 668.1,2367.0 730.3,2351.9 792.5,2382.2 854.7,2399.5 916.9,2373.5 979.1,2358.4 1041.3,2351.9 1103.5,2356.2 1165.7,2380.0" fill="none" stroke="#3cb371" stroke-width="1.9" stroke-linejoin="round"/>
<polyline points="357.1,2344.7 419.3,2387.6 481.5,2354.3 543.7,2382.8 605.9,2392.3 668.1,2406.6 730.3,2359.0 792.5,2332.8 854.7,2409.0 916.9,2368.5 979.1,2363.8 1041.3,2354.3 1103.5,2366.2 1165.7,2368.5" fill="none" stroke="#3cb371" stroke-width="1.9" stroke-linejoin="round"/>
<polyline points="357.1,2348.5 419.3,2415.6 481.5,2365.8 543.7,2376.6 605.9,2365.8 668.1,2396.1 730.3,2346.3 792.5,2376.6 854.7,2381.0 916.9,2385.3 979.1,2357.1 1041.3,2346.3 1103.5,2355.0 1165.7,2374.5" fill="none" stroke="#3cb371" stroke-width="1.9" stroke-linejoin="round"/>
<polyline points="357.1,2360.2 419.3,2405.4 481.5,2339.6 543.7,2366.3 605.9,2368.4 668.1,2403.4 730.3,2376.6 792.5,2378.7 854.7,2366.3 916.9,2368.4 979.1,2374.6 1041.3,2354.0 1103.5,2358.1 1165.7,2370.5" fill="none" stroke="#3cb371" stroke-width="1.9" stroke-linejoin="round"/>
<polyline points="357.1,2366.7 419.3,2388.1 481.5,2323.8 543.7,2361.9 605.9,2388.1 668.1,2400.0 730.3,2371.4 792.5,2369.0 854.7,2361.9 916.9,2369.0 979.1,2390.5 1041.3,2357.1 1103.5,2371.4 1165.7,2371.4" fill="none" stroke="#3cb371" stroke-width="1.9" stroke-linejoin="round"/>
<polyline points="357.1,2360.1 419.3,2368.8 481.5,2356.6 543.7,2356.6 605.9,2380.9 668.1,2394.7 730.3,2365.3 792.5,2370.5 854.7,2365.3 916.9,2380.9 979.1,2368.8 1041.3,2374.0 1103.5,2346.3 1165.7,2401.7" fill="none" stroke="#3cb371" stroke-width="1.9" stroke-linejoin="round"/>
<polyline points="357.1,2368.8 419.3,2389.4 481.5,2352.4 543.7,2362.7 605.9,2395.6 668.1,2407.9 730.3,2348.3 792.5,2381.2 854.7,2375.0 916.9,2368.8 979.1,2370.9 1041.3,2352.4 1103.5,2342.1 1165.7,2375.0" fill="none" stroke="#3cb371" stroke-width="1.9" stroke-linejoin="round"/>
<polyline points="357.1,2370.1 419.3,2359.7 481.5,2354.5 543.7,2378.8 605.9,2396.1 668.1,2366.7 730.3,2364.9 792.5,2387.4 854.7,2384.0 916.9,2385.7 979.1,2380.5 1041.3,2340.7 1103.5,2351.1 1165.7,2370.1" fill="none" stroke="#3cb371" stroke-width="1.9" stroke-linejoin="round"/>
<polyline points="357.1,2369.4 419.3,2353.0 481.5,2369.4 543.7,2398.2 605.9,2396.2 668.1,2394.1 730.3,2342.7 792.5,2363.3 854.7,2392.0 916.9,2387.9 979.1,2385.9 1041.3,2332.4 1103.5,2338.6 1165.7,2367.4" fill="none" stroke="#3cb371" stroke-width="1.9" stroke-linejoin="round"/>
<polyline points="357.1,2339.8 419.3,2378.8 481.5,2344.2 543.7,2352.8 605.9,2422.1 668.1,2378.8 730.3,2296.5 792.5,2422.1 854.7,2374.5 916.9,2435.1 979.1,2365.8 1041.3,2335.5 1103.5,2335.5 1165.7,2409.1" fill="none" stroke="#3cb371" stroke-width="1.9" stroke-linejoin="round"/>
<polyline points="357.1,2366.3 419.3,2383.6 481.5,2352.4 543.7,2371.5 605.9,2397.5 668.1,2376.7 730.3,2343.8 792.5,2375.0 854.7,2383.6 916.9,2385.3 979.1,2373.2 1041.3,2352.4 1103.5,2349.0 1165.7,2380.2" fill="none" stroke="#3cb371" stroke-width="1.9" stroke-linejoin="round"/>
<polyline points="357.1,2364.9 419.3,2362.8 481.5,2354.6 543.7,2393.7 605.9,2377.2 668.1,2385.4 730.3,2327.9 792.5,2391.6 854.7,2387.5 916.9,2383.4 979.1,2375.2 1041.3,2356.6 1103.5,2350.5 1165.7,2379.3" fill="none" stroke="#3cb371" stroke-width="1.9" stroke-linejoin="round"/>
<polyline points="357.1,2358.2 419.3,2384.4 481.5,2324.8 543.7,2379.6 605.9,2398.6 668.1,2393.9 730.3,2324.8 792.5,2374.8 854.7,2393.9 916.9,2396.3 979.1,2386.7 1041.3,2343.9 1103.5,2351.0 1165.7,2379.6" fill="none" stroke="#3cb371" stroke-width="1.9" stroke-linejoin="round"/>
<polyline points="357.1,2369.9 419.3,2373.3 481.5,2338.7 543.7,2369.9 605.9,2390.7 668.1,2378.5 730.3,2337.0 792.5,2382.0 854.7,2392.4 916.9,2388.9 979.1,2378.5 1041.3,2347.4 1103.5,2359.5 1165.7,2383.7" fill="none" stroke="#3cb371" stroke-width="1.9" stroke-linejoin="round"/>
<polyline points="357.1,2380.4 419.3,2378.4 481.5,2329.0 543.7,2388.7 605.9,2380.4 668.1,2394.8 730.3,2331.1 792.5,2388.7 854.7,2386.6 916.9,2394.8 979.1,2378.4 1041.3,2347.5 1103.5,2335.2 1165.7,2376.3" fill="none" stroke="#3cb371" stroke-width="1.9" stroke-linejoin="round"/>
<polyline points="357.1,2375.7 419.3,2356.6 481.5,2325.7 543.7,2390.0 605.9,2401.9 668.1,2380.4 730.3,2340.0 792.5,2387.6 854.7,2399.5 916.9,2399.5 979.1,2382.8 1041.3,2328.1 1103.5,2347.1 1165.7,2375.7" fill="none" stroke="#3cb371" stroke-width="1.9" stroke-linejoin="round"/>
<polyline points="357.1,2370.1 419.3,2364.9 481.5,2337.2 543.7,2385.7 605.9,2390.9 668.1,2380.5 730.3,2351.1 792.5,2392.6 854.7,2385.7 916.9,2389.2 979.1,2382.3 1041.3,2351.1 1103.5,2339.0 1165.7,2370.1" fill="none" stroke="#3cb371" stroke-width="1.9" stroke-linejoin="round"/>
<polyline points="357.1,2366.7 419.3,2342.9 481.5,2381.9 543.7,2371.1 605.9,2362.4 668.1,2351.6 730.3,2360.2 792.5,2390.5 854.7,2375.4 916.9,2373.2 979.1,2355.9 1041.3,2412.2 1103.5,2386.2 1165.7,2360.2" fill="none" stroke="#3cb371" stroke-width="1.9" stroke-linejoin="round"/>
<polyline points="357.1,2372.2 419.3,2336.1 481.5,2400.2 543.7,2408.2 605.9,2448.3 668.1,2352.2 730.3,2376.2 792.5,2372.2 854.7,2320.1 916.9,2356.2 979.1,2360.2 1041.3,2360.2 1103.5,2356.2 1165.7,2372.2" fill="none" stroke="#3cb371" stroke-width="1.9" stroke-linejoin="round"/>
<polyline points="357.1,2433.0 419.3,2358.0 481.5,2318.7 543.7,2375.9 605.9,2350.9 668.1,2375.9 730.3,2390.1 792.5,2358.0 854.7,2318.7 916.9,2404.4 979.1,2383.0 1041.3,2393.7 1103.5,2343.7 1165.7,2386.6" fill="none" stroke="#3cb371" stroke-width="1.9" stroke-linejoin="round"/>
<polyline points="357.1,2336.3 419.3,2409.1 481.5,2322.7 543.7,2395.4 605.9,2409.1 668.1,2386.3 730.3,2436.3 792.5,2318.2 854.7,2350.0 916.9,2422.7 979.1,2377.2 1041.3,2318.2 1103.5,2290.9 1165.7,2418.2" fill="none" stroke="#3cb371" stroke-width="1.9" stroke-linejoin="round"/>
<polyline points="357.1,2382.8 419.3,2361.2 481.5,2341.7 543.7,2352.5 605.9,2385.0 668.1,2350.3 730.3,2385.0 792.5,2380.6 854.7,2410.9 916.9,2387.1 979.1,2378.5 1041.3,2365.5 1103.5,2348.2 1165.7,2361.2" fill="none" stroke="#3cb371" stroke-width="1.9" stroke-linejoin="round"/>
<polyline points="357.1,2351.7 419.3,2416.7 481.5,2393.9 543.7,2342.0 605.9,2403.7 668.1,2381.0 730.3,2432.9 792.5,2332.3 854.7,2393.9 916.9,2329.0 979.1,2348.5 1041.3,2364.7 1103.5,2368.0 1165.7,2332.3" fill="none" stroke="#3cb371" stroke-width="1.9" stroke-linejoin="round"/>
<polyline points="357.1,2357.0 419.3,2407.0 481.5,2333.2 543.7,2387.9 605.9,2395.1 668.1,2359.4 730.3,2387.9 792.5,2347.5 854.7,2383.2 916.9,2359.4 979.1,2342.7 1041.3,2383.2 1103.5,2371.3 1165.7,2376.0" fill="none" stroke="#3cb371" stroke-width="1.9" stroke-linejoin="round"/>
<polyline points="357.1,2387.2 419.3,2400.2 481.5,2419.7 543.7,2354.7 605.9,2341.8 668.1,2419.7 730.3,2345.0 792.5,2315.8 854.7,2367.7 916.9,2351.5 979.1,2338.3 1041.3,2297.2 1103.5,2370.8 1165.7,2397.8" fill="none" stroke="#00008b" stroke-width="1.9" stroke-linejoin="round"/>
<polyline points="357.1,2409.9 419.3,2419.8 481.5,2340.2 543.7,2325.2 605.9,2270.5 668.1,2330.2 730.3,2315.3 792.5,2340.2 854.7,2370.0 916.9,2380.0 979.1,2419.8 1041.3,2419.8 1103.5,2419.8 1165.7,2429.8" fill="none" stroke="#00008b" stroke-width="1.9" stroke-linejoin="round"/>
<polyline points="357.1,2395.3 419.3,2372.4 481.5,2234.7 543.7,2338.0 605.9,2360.9 668.1,2418.3 730.3,2389.6 792.5,2372.4 854.7,2401.1 916.9,2406.8 979.1,2395.3 1041.3,2360.9 1103.5,2349.4 1165.7,2395.3" fill="none" stroke="#00008b" stroke-width="1.9" stroke-linejoin="round"/>
<polyline points="357.1,2404.6 419.3,2419.7 481.5,2298.5 543.7,2344.0 605.9,2328.8 668.1,2389.4 730.3,2347.8 792.5,2404.6 854.7,2381.8 916.9,2389.4 979.1,2344.0 1041.3,2374.3 1103.5,2374.3 1165.7,2389.4" fill="none" stroke="#00008b" stroke-width="1.9" stroke-linejoin="round"/>
<polyline points="357.1,2379.0 419.3,2379.0 481.5,2385.3 543.7,2375.9 605.9,2353.9 668.1,2363.4 730.3,2291.2 792.5,2379.0 854.7,2382.2 916.9,2382.2 979.1,2372.8 1041.3,2382.2 1103.5,2372.8 1165.7,2391.6" fill="none" stroke="#00008b" stroke-width="1.9" stroke-linejoin="round"/>
<polyline points="357.1,2394.2 419.3,2394.2 481.5,2339.0 543.7,2335.7 605.9,2355.2 668.1,2403.9 730.3,2309.8 792.5,2381.2 854.7,2381.2 916.9,2377.9 979.1,2403.9 1041.3,2352.0 1103.5,2348.7 1165.7,2413.7" fill="none" stroke="#00008b" stroke-width="1.9" stroke-linejoin="round"/>
<polyline points="357.1,2380.5 419.3,2380.5 481.5,2335.0 543.7,2374.0 605.9,2374.0 668.1,2377.2 730.3,2299.3 792.5,2374.0 854.7,2403.2 916.9,2374.0 979.1,2396.7 1041.3,2361.0 1103.5,2367.5 1165.7,2393.5" fill="none" stroke="#00008b" stroke-width="1.9" stroke-linejoin="round"/>
<polyline points="357.1,2393.2 419.3,2467.8 481.5,2348.3 543.7,2228.9 605.9,2452.9 668.1,2333.4 730.3,2393.2 792.5,2378.2 854.7,2325.9 916.9,2452.9 979.1,2363.3 1041.3,2385.7 1103.5,2296.1 1165.7,2370.8" fill="none" stroke="#3cb371" stroke-width="1.9" stroke-linejoin="round"/>
<polyline points="357.1,2439.5 419.3,2395.8 481.5,2344.7 543.7,2366.6 605.9,2359.3 668.1,2432.2 730.3,2476.0 792.5,2337.4 854.7,2410.3 916.9,2403.1 979.1,2352.0 1041.3,2242.6 1103.5,2279.0 1165.7,2352.0" fill="none" stroke="#3cb371" stroke-width="1.9" stroke-linejoin="round"/>
<polyline points="357.1,2301.3 419.3,2363.5 481.5,2305.8 543.7,2443.3 605.9,2407.8 668.1,2363.5 730.3,2399.0 792.5,2421.1 854.7,2416.7 916.9,2399.0 979.1,2363.5 1041.3,2323.5 1103.5,2332.4 1165.7,2350.1" fill="none" stroke="#3cb371" stroke-width="1.9" stroke-linejoin="round"/>
<polyline points="357.1,2335.5 419.3,2419.7 481.5,2311.4 543.7,2383.6 605.9,2377.6 668.1,2299.4 730.3,2492.0 792.5,2383.6 854.7,2371.6 916.9,2371.6 979.1,2335.5 1041.3,2377.6 1103.5,2365.6 1165.7,2365.6" fill="none" stroke="#3cb371" stroke-width="1.9" stroke-linejoin="round"/>
<rect x="316.5" y="2154.3" width="890.0" height="432.89999999999964" fill="none" stroke="#222" stroke-width="1.3"/>
<polygon points="339.3,2569.5 542.6,2568.5 542.6,2590 339.3,2591" fill="#3a3339"/>
<polygon points="542.6,2568 979.5,2566 979.5,2589 542.6,2590" fill="#ffc709"/>
<polygon points="979.5,2568 1169.5,2567 1169.5,2589.5 979.5,2590" fill="#3a3339"/>
<rect x="311.5" y="2586.5" width="5" height="1.4" fill="#222"/>
<text x="304.3" y="2599.2" font-size="33" text-anchor="end" fill="#111">0.0</text>
<rect x="311.5" y="2478.3" width="5" height="1.4" fill="#222"/>
<text x="304.3" y="2491.0" font-size="33" text-anchor="end" fill="#111">0.5</text>
<rect x="311.5" y="2370.1" width="5" height="1.4" fill="#222"/>
<text x="304.3" y="2382.8" font-size="33" text-anchor="end" fill="#111">1.0</text>
<rect x="311.5" y="2261.8" width="5" height="1.4" fill="#222"/>
<text x="304.3" y="2274.5" font-size="33" text-anchor="end" fill="#111">1.5</text>
<rect x="311.5" y="2153.6" width="5" height="1.4" fill="#222"/>
<text x="304.3" y="2166.3" font-size="33" text-anchor="end" fill="#111">2.0</text>
<rect x="356.4" y="2587.2" width="1.4" height="5" fill="#222"/>
<text x="357.1" y="2625" font-size="33" text-anchor="middle" fill="#111">0</text>
<rect x="418.6" y="2587.2" width="1.4" height="5" fill="#222"/>
<text x="419.3" y="2625" font-size="33" text-anchor="middle" fill="#111">1</text>
<rect x="480.8" y="2587.2" width="1.4" height="5" fill="#222"/>
<text x="481.5" y="2625" font-size="33" text-anchor="middle" fill="#111">4</text>
<rect x="543.0" y="2587.2" width="1.4" height="5" fill="#222"/>
<text x="543.7" y="2625" font-size="33" text-anchor="middle" fill="#111">6</text>
<rect x="605.2" y="2587.2" width="1.4" height="5" fill="#222"/>
<text x="605.9" y="2625" font-size="33" text-anchor="middle" fill="#111">9</text>
<rect x="667.4" y="2587.2" width="1.4" height="5" fill="#222"/>
<text x="668.1" y="2625" font-size="33" text-anchor="middle" fill="#111">11</text>
<rect x="729.6" y="2587.2" width="1.4" height="5" fill="#222"/>
<text x="730.3" y="2625" font-size="33" text-anchor="middle" fill="#111">12</text>
<rect x="791.8" y="2587.2" width="1.4" height="5" fill="#222"/>
<text x="792.5" y="2625" font-size="33" text-anchor="middle" fill="#111">13</text>
<rect x="854.0" y="2587.2" width="1.4" height="5" fill="#222"/>
<text x="854.7" y="2625" font-size="33" text-anchor="middle" fill="#111">14</text>
<rect x="916.2" y="2587.2" width="1.4" height="5" fill="#222"/>
<text x="916.9" y="2625" font-size="33" text-anchor="middle" fill="#111">15</text>
<rect x="978.4" y="2587.2" width="1.4" height="5" fill="#222"/>
<text x="979.1" y="2625" font-size="33" text-anchor="middle" fill="#111">18</text>
<rect x="1040.6" y="2587.2" width="1.4" height="5" fill="#222"/>
<text x="1041.3" y="2625" font-size="33" text-anchor="middle" fill="#111">20</text>
<rect x="1102.8" y="2587.2" width="1.4" height="5" fill="#222"/>
<text x="1103.5" y="2625" font-size="33" text-anchor="middle" fill="#111">22</text>
<rect x="1165.0" y="2587.2" width="1.4" height="5" fill="#222"/>
<text x="1165.7" y="2625" font-size="33" text-anchor="middle" fill="#111">23</text>
<text x="769.5" y="2683" font-size="37.3" text-anchor="middle" fill="#000">Time of day (hours)</text>
<text transform="translate(158,2613) rotate(-90)" font-size="37.2" fill="#000">KO Module Avg.</text>
<text transform="translate(205.5,2613) rotate(-90)" font-size="37.2" fill="#000">fold change over mean</text>
</svg>
</body></html>
